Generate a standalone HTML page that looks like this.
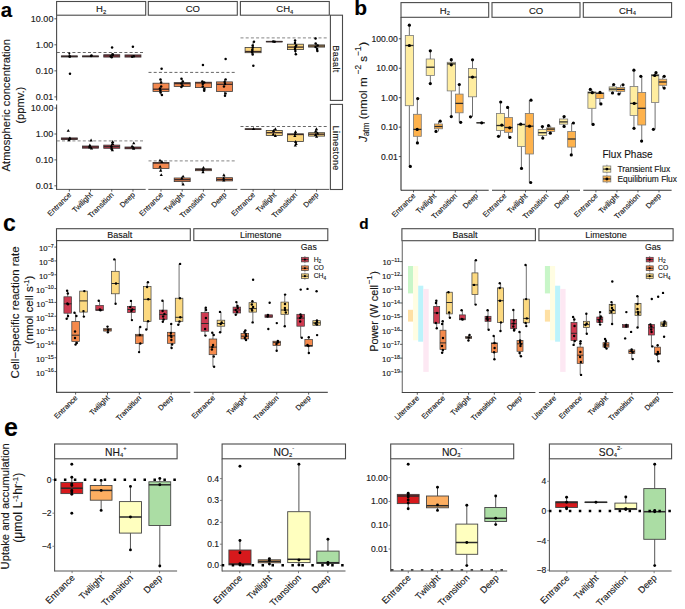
<!DOCTYPE html>
<html><head><meta charset="utf-8"><style>
html,body{margin:0;padding:0;background:#fff;width:685px;height:609px;overflow:hidden}
svg{display:block;font-family:"Liberation Sans", sans-serif}
text{stroke:currentColor;stroke-width:0.12px}
</style></head><body>
<svg width="685" height="609" viewBox="0 0 685 609">
<rect width="685" height="609" fill="#fff"/>
<text x="0.80" y="17.00" font-size="20.5" text-anchor="start" font-weight="bold" fill="#000">a</text>
<rect x="56.60" y="1.50" width="89.10" height="13.70" fill="#fff" stroke="#4a4a4a" stroke-width="1.1"/>
<text x="101.15" y="12.07" font-size="9.5" text-anchor="middle" fill="#1a1a1a">H<tspan font-size="5.8" dy="1.8">2</tspan></text>
<rect x="148.30" y="1.50" width="89.00" height="13.70" fill="#fff" stroke="#4a4a4a" stroke-width="1.1"/>
<text x="192.80" y="12.07" font-size="9.5" text-anchor="middle" fill="#1a1a1a">CO</text>
<rect x="240.40" y="1.50" width="88.90" height="13.70" fill="#fff" stroke="#4a4a4a" stroke-width="1.1"/>
<text x="284.85" y="12.07" font-size="9.5" text-anchor="middle" fill="#1a1a1a">CH<tspan font-size="5.8" dy="1.8">4</tspan></text>
<rect x="330.40" y="15.20" width="12.10" height="85.20" fill="#fff" stroke="#4a4a4a" stroke-width="1.1"/>
<text x="336.45" y="59.00" font-size="9" text-anchor="middle" dominant-baseline="central" letter-spacing="0.4" fill="#1a1a1a" transform="rotate(90 336.45 59.00)">Basalt</text>
<rect x="330.40" y="104.40" width="12.10" height="85.10" fill="#fff" stroke="#4a4a4a" stroke-width="1.1"/>
<text x="336.45" y="148.15" font-size="9" text-anchor="middle" dominant-baseline="central" letter-spacing="0.4" fill="#1a1a1a" transform="rotate(90 336.45 148.15)">Limestone</text>
<line x1="56.60" y1="15.20" x2="56.60" y2="100.40" stroke="#4a4a4a" stroke-width="1.1"/>
<line x1="56.60" y1="104.40" x2="56.60" y2="189.90" stroke="#4a4a4a" stroke-width="1.1"/>
<line x1="54.40" y1="18.80" x2="56.60" y2="18.80" stroke="#333" stroke-width="0.8"/>
<text x="53.40" y="21.95" font-size="9" text-anchor="end" font-weight="normal" fill="#1a1a1a">10.00</text>
<line x1="54.40" y1="44.80" x2="56.60" y2="44.80" stroke="#333" stroke-width="0.8"/>
<text x="53.40" y="47.95" font-size="9" text-anchor="end" font-weight="normal" fill="#1a1a1a">1.00</text>
<line x1="54.40" y1="70.85" x2="56.60" y2="70.85" stroke="#333" stroke-width="0.8"/>
<text x="53.40" y="74.00" font-size="9" text-anchor="end" font-weight="normal" fill="#1a1a1a">0.10</text>
<line x1="54.40" y1="96.90" x2="56.60" y2="96.90" stroke="#333" stroke-width="0.8"/>
<text x="53.40" y="100.05" font-size="9" text-anchor="end" font-weight="normal" fill="#1a1a1a">0.01</text>
<line x1="54.40" y1="108.10" x2="56.60" y2="108.10" stroke="#333" stroke-width="0.8"/>
<text x="53.40" y="111.25" font-size="9" text-anchor="end" font-weight="normal" fill="#1a1a1a">10.00</text>
<line x1="54.40" y1="134.00" x2="56.60" y2="134.00" stroke="#333" stroke-width="0.8"/>
<text x="53.40" y="137.15" font-size="9" text-anchor="end" font-weight="normal" fill="#1a1a1a">1.00</text>
<line x1="54.40" y1="159.90" x2="56.60" y2="159.90" stroke="#333" stroke-width="0.8"/>
<text x="53.40" y="163.05" font-size="9" text-anchor="end" font-weight="normal" fill="#1a1a1a">0.10</text>
<line x1="54.40" y1="185.80" x2="56.60" y2="185.80" stroke="#333" stroke-width="0.8"/>
<text x="53.40" y="188.95" font-size="9" text-anchor="end" font-weight="normal" fill="#1a1a1a">0.01</text>
<line x1="56.60" y1="189.40" x2="145.70" y2="189.40" stroke="#555" stroke-width="1.0"/>
<line x1="69.33" y1="189.40" x2="69.33" y2="191.60" stroke="#333" stroke-width="0.8"/>
<line x1="90.54" y1="189.40" x2="90.54" y2="191.60" stroke="#333" stroke-width="0.8"/>
<line x1="111.76" y1="189.40" x2="111.76" y2="191.60" stroke="#333" stroke-width="0.8"/>
<line x1="132.97" y1="189.40" x2="132.97" y2="191.60" stroke="#333" stroke-width="0.8"/>
<text x="71.73" y="195.40" font-size="7.5" text-anchor="end" fill="#1a1a1a" transform="rotate(-45 71.73 195.40)">Entrance</text>
<text x="92.94" y="195.40" font-size="7.5" text-anchor="end" fill="#1a1a1a" transform="rotate(-45 92.94 195.40)">Twilight</text>
<text x="114.16" y="195.40" font-size="7.5" text-anchor="end" fill="#1a1a1a" transform="rotate(-45 114.16 195.40)">Transition</text>
<text x="135.37" y="195.40" font-size="7.5" text-anchor="end" fill="#1a1a1a" transform="rotate(-45 135.37 195.40)">Deep</text>
<line x1="148.30" y1="189.40" x2="237.30" y2="189.40" stroke="#555" stroke-width="1.0"/>
<line x1="161.01" y1="189.40" x2="161.01" y2="191.60" stroke="#333" stroke-width="0.8"/>
<line x1="182.20" y1="189.40" x2="182.20" y2="191.60" stroke="#333" stroke-width="0.8"/>
<line x1="203.40" y1="189.40" x2="203.40" y2="191.60" stroke="#333" stroke-width="0.8"/>
<line x1="224.59" y1="189.40" x2="224.59" y2="191.60" stroke="#333" stroke-width="0.8"/>
<text x="163.41" y="195.40" font-size="7.5" text-anchor="end" fill="#1a1a1a" transform="rotate(-45 163.41 195.40)">Entrance</text>
<text x="184.60" y="195.40" font-size="7.5" text-anchor="end" fill="#1a1a1a" transform="rotate(-45 184.60 195.40)">Twilight</text>
<text x="205.80" y="195.40" font-size="7.5" text-anchor="end" fill="#1a1a1a" transform="rotate(-45 205.80 195.40)">Transition</text>
<text x="226.99" y="195.40" font-size="7.5" text-anchor="end" fill="#1a1a1a" transform="rotate(-45 226.99 195.40)">Deep</text>
<line x1="240.40" y1="189.40" x2="329.30" y2="189.40" stroke="#555" stroke-width="1.0"/>
<line x1="253.10" y1="189.40" x2="253.10" y2="191.60" stroke="#333" stroke-width="0.8"/>
<line x1="274.27" y1="189.40" x2="274.27" y2="191.60" stroke="#333" stroke-width="0.8"/>
<line x1="295.43" y1="189.40" x2="295.43" y2="191.60" stroke="#333" stroke-width="0.8"/>
<line x1="316.60" y1="189.40" x2="316.60" y2="191.60" stroke="#333" stroke-width="0.8"/>
<text x="255.50" y="195.40" font-size="7.5" text-anchor="end" fill="#1a1a1a" transform="rotate(-45 255.50 195.40)">Entrance</text>
<text x="276.67" y="195.40" font-size="7.5" text-anchor="end" fill="#1a1a1a" transform="rotate(-45 276.67 195.40)">Twilight</text>
<text x="297.83" y="195.40" font-size="7.5" text-anchor="end" fill="#1a1a1a" transform="rotate(-45 297.83 195.40)">Transition</text>
<text x="319.00" y="195.40" font-size="7.5" text-anchor="end" fill="#1a1a1a" transform="rotate(-45 319.00 195.40)">Deep</text>
<text x="10.50" y="105.20" font-size="11.2" text-anchor="middle" font-weight="normal" fill="#1a1a1a" transform="rotate(-90 10.50 105.20)">Atmospheric concentration</text>
<text x="24.00" y="105.20" font-size="11.2" text-anchor="middle" font-weight="normal" fill="#1a1a1a" transform="rotate(-90 24.00 105.20)">(ppmv.)</text>
<line x1="56.80" y1="52.50" x2="144.50" y2="52.50" stroke="#555" stroke-width="0.9" stroke-dasharray="3 2.2"/>
<line x1="148.50" y1="72.40" x2="236.30" y2="72.40" stroke="#555" stroke-width="0.9" stroke-dasharray="3 2.2"/>
<line x1="240.50" y1="37.90" x2="327.80" y2="37.90" stroke="#777" stroke-width="0.9" stroke-dasharray="3 2.2"/>
<line x1="56.80" y1="140.90" x2="144.50" y2="140.90" stroke="#777" stroke-width="0.9" stroke-dasharray="3 2.2"/>
<line x1="148.50" y1="160.90" x2="236.30" y2="160.90" stroke="#777" stroke-width="0.9" stroke-dasharray="3 2.2"/>
<line x1="240.50" y1="126.50" x2="327.80" y2="126.50" stroke="#555" stroke-width="0.9" stroke-dasharray="3 2.2"/>
<line x1="69.33" y1="53.10" x2="69.33" y2="55.90" stroke="#333" stroke-width="0.8"/>
<rect x="61.33" y="55.90" width="16.00" height="1.10" fill="#c63a4b" stroke="#3a3a3a" stroke-width="0.8"/>
<line x1="61.33" y1="56.40" x2="77.33" y2="56.40" stroke="#3a2a2a" stroke-width="1.3"/>
<circle cx="69.60" cy="56.40" r="1.25" fill="#000"/>
<circle cx="69.86" cy="56.60" r="1.25" fill="#000"/>
<circle cx="69.98" cy="73.80" r="1.25" fill="#000"/>
<circle cx="69.33" cy="53.40" r="1.0" fill="#000"/>
<line x1="90.54" y1="55.50" x2="90.54" y2="55.90" stroke="#333" stroke-width="0.8"/>
<rect x="82.54" y="55.90" width="16.00" height="1.00" fill="#c63a4b" stroke="#3a3a3a" stroke-width="0.8"/>
<line x1="82.54" y1="56.40" x2="98.54" y2="56.40" stroke="#3a2a2a" stroke-width="1.3"/>
<circle cx="91.52" cy="55.50" r="1.25" fill="#000"/>
<circle cx="91.07" cy="56.00" r="1.25" fill="#000"/>
<line x1="111.76" y1="53.50" x2="111.76" y2="54.70" stroke="#333" stroke-width="0.8"/>
<line x1="111.76" y1="57.10" x2="111.76" y2="57.30" stroke="#333" stroke-width="0.8"/>
<rect x="103.76" y="54.70" width="16.00" height="2.40" fill="#c63a4b" stroke="#3a3a3a" stroke-width="0.8"/>
<line x1="103.76" y1="55.90" x2="119.76" y2="55.90" stroke="#3a2a2a" stroke-width="1.3"/>
<circle cx="112.69" cy="55.00" r="1.25" fill="#000"/>
<circle cx="110.72" cy="56.20" r="1.25" fill="#000"/>
<circle cx="111.68" cy="57.30" r="1.25" fill="#000"/>
<circle cx="112.73" cy="54.30" r="1.25" fill="#000"/>
<circle cx="112.08" cy="47.60" r="1.25" fill="#000"/>
<rect x="124.97" y="54.90" width="16.00" height="2.20" fill="#c63a4b" stroke="#3a3a3a" stroke-width="0.8"/>
<line x1="124.97" y1="56.00" x2="140.97" y2="56.00" stroke="#3a2a2a" stroke-width="1.3"/>
<circle cx="133.85" cy="56.20" r="1.25" fill="#000"/>
<circle cx="132.12" cy="56.80" r="1.25" fill="#000"/>
<circle cx="132.90" cy="46.80" r="1.25" fill="#000"/>
<line x1="161.01" y1="79.50" x2="161.01" y2="83.20" stroke="#333" stroke-width="0.8"/>
<line x1="161.01" y1="91.40" x2="161.01" y2="95.00" stroke="#333" stroke-width="0.8"/>
<rect x="153.01" y="83.20" width="16.00" height="8.20" fill="#f4894f" stroke="#3a3a3a" stroke-width="0.8"/>
<line x1="153.01" y1="89.20" x2="169.01" y2="89.20" stroke="#3a2a2a" stroke-width="1.3"/>
<circle cx="160.46" cy="79.50" r="1.25" fill="#000"/>
<circle cx="161.11" cy="82.50" r="1.25" fill="#000"/>
<circle cx="161.18" cy="86.50" r="1.25" fill="#000"/>
<circle cx="159.94" cy="88.50" r="1.25" fill="#000"/>
<circle cx="160.39" cy="90.50" r="1.25" fill="#000"/>
<circle cx="160.53" cy="92.50" r="1.25" fill="#000"/>
<circle cx="161.93" cy="95.00" r="1.25" fill="#000"/>
<circle cx="161.60" cy="68.70" r="1.25" fill="#000"/>
<line x1="182.20" y1="78.70" x2="182.20" y2="82.60" stroke="#333" stroke-width="0.8"/>
<line x1="182.20" y1="86.50" x2="182.20" y2="87.00" stroke="#333" stroke-width="0.8"/>
<rect x="174.20" y="82.60" width="16.00" height="3.90" fill="#f4894f" stroke="#3a3a3a" stroke-width="0.8"/>
<line x1="174.20" y1="83.60" x2="190.20" y2="83.60" stroke="#3a2a2a" stroke-width="1.3"/>
<circle cx="181.46" cy="78.70" r="1.25" fill="#000"/>
<circle cx="182.86" cy="81.50" r="1.25" fill="#000"/>
<circle cx="181.41" cy="83.50" r="1.25" fill="#000"/>
<circle cx="182.46" cy="85.50" r="1.25" fill="#000"/>
<circle cx="181.38" cy="87.00" r="1.25" fill="#000"/>
<line x1="203.40" y1="81.50" x2="203.40" y2="82.20" stroke="#333" stroke-width="0.8"/>
<line x1="203.40" y1="87.60" x2="203.40" y2="90.80" stroke="#333" stroke-width="0.8"/>
<rect x="195.40" y="82.20" width="16.00" height="5.40" fill="#f4894f" stroke="#3a3a3a" stroke-width="0.8"/>
<line x1="195.40" y1="82.90" x2="211.40" y2="82.90" stroke="#3a2a2a" stroke-width="1.3"/>
<circle cx="202.30" cy="81.50" r="1.25" fill="#000"/>
<circle cx="204.21" cy="82.50" r="1.25" fill="#000"/>
<circle cx="202.76" cy="84.00" r="1.25" fill="#000"/>
<circle cx="202.77" cy="86.50" r="1.25" fill="#000"/>
<circle cx="204.46" cy="89.00" r="1.25" fill="#000"/>
<circle cx="204.21" cy="90.80" r="1.25" fill="#000"/>
<circle cx="202.93" cy="65.10" r="1.25" fill="#000"/>
<line x1="224.59" y1="79.50" x2="224.59" y2="81.90" stroke="#333" stroke-width="0.8"/>
<line x1="224.59" y1="91.40" x2="224.59" y2="95.80" stroke="#333" stroke-width="0.8"/>
<rect x="216.59" y="81.90" width="16.00" height="9.50" fill="#f4894f" stroke="#3a3a3a" stroke-width="0.8"/>
<line x1="216.59" y1="84.30" x2="232.59" y2="84.30" stroke="#3a2a2a" stroke-width="1.3"/>
<circle cx="225.60" cy="79.50" r="1.25" fill="#000"/>
<circle cx="224.67" cy="82.00" r="1.25" fill="#000"/>
<circle cx="224.98" cy="84.00" r="1.25" fill="#000"/>
<circle cx="223.94" cy="86.50" r="1.25" fill="#000"/>
<circle cx="225.56" cy="93.50" r="1.25" fill="#000"/>
<circle cx="225.01" cy="95.80" r="1.25" fill="#000"/>
<circle cx="225.61" cy="59.10" r="1.25" fill="#000"/>
<line x1="253.10" y1="41.60" x2="253.10" y2="47.40" stroke="#333" stroke-width="0.8"/>
<line x1="253.10" y1="52.70" x2="253.10" y2="54.50" stroke="#333" stroke-width="0.8"/>
<rect x="245.10" y="47.40" width="16.00" height="5.30" fill="#fcd67c" stroke="#3a3a3a" stroke-width="0.8"/>
<line x1="245.10" y1="51.50" x2="261.10" y2="51.50" stroke="#3a2a2a" stroke-width="1.3"/>
<circle cx="253.97" cy="41.80" r="1.25" fill="#000"/>
<circle cx="252.66" cy="45.50" r="1.25" fill="#000"/>
<circle cx="252.79" cy="47.50" r="1.25" fill="#000"/>
<circle cx="252.37" cy="49.50" r="1.25" fill="#000"/>
<circle cx="252.32" cy="51.00" r="1.25" fill="#000"/>
<circle cx="252.14" cy="52.50" r="1.25" fill="#000"/>
<circle cx="252.66" cy="54.50" r="1.25" fill="#000"/>
<circle cx="253.33" cy="65.80" r="1.25" fill="#000"/>
<rect x="266.27" y="41.30" width="16.00" height="0.60" fill="#fcd67c" stroke="#3a3a3a" stroke-width="0.8"/>
<line x1="266.27" y1="41.60" x2="282.27" y2="41.60" stroke="#3a2a2a" stroke-width="1.3"/>
<circle cx="273.17" cy="41.60" r="1.25" fill="#000"/>
<circle cx="274.66" cy="41.80" r="1.25" fill="#000"/>
<line x1="295.43" y1="40.50" x2="295.43" y2="44.20" stroke="#333" stroke-width="0.8"/>
<line x1="295.43" y1="49.60" x2="295.43" y2="54.30" stroke="#333" stroke-width="0.8"/>
<rect x="287.43" y="44.20" width="16.00" height="5.40" fill="#fcd67c" stroke="#3a3a3a" stroke-width="0.8"/>
<line x1="287.43" y1="47.10" x2="303.43" y2="47.10" stroke="#3a2a2a" stroke-width="1.3"/>
<circle cx="295.08" cy="40.60" r="1.25" fill="#000"/>
<circle cx="295.02" cy="43.00" r="1.25" fill="#000"/>
<circle cx="296.13" cy="45.50" r="1.25" fill="#000"/>
<circle cx="295.39" cy="47.00" r="1.25" fill="#000"/>
<circle cx="295.03" cy="49.00" r="1.25" fill="#000"/>
<circle cx="295.39" cy="51.00" r="1.25" fill="#000"/>
<circle cx="295.88" cy="54.30" r="1.25" fill="#000"/>
<line x1="316.60" y1="43.50" x2="316.60" y2="44.90" stroke="#333" stroke-width="0.8"/>
<line x1="316.60" y1="47.10" x2="316.60" y2="51.00" stroke="#333" stroke-width="0.8"/>
<rect x="308.60" y="44.90" width="16.00" height="2.20" fill="#fcd67c" stroke="#3a3a3a" stroke-width="0.8"/>
<line x1="308.60" y1="46.00" x2="324.60" y2="46.00" stroke="#3a2a2a" stroke-width="1.3"/>
<circle cx="315.63" cy="43.50" r="1.25" fill="#000"/>
<circle cx="317.65" cy="45.50" r="1.25" fill="#000"/>
<circle cx="315.55" cy="47.00" r="1.25" fill="#000"/>
<circle cx="317.15" cy="49.00" r="1.25" fill="#000"/>
<circle cx="317.36" cy="51.00" r="1.25" fill="#000"/>
<circle cx="315.54" cy="38.40" r="1.25" fill="#000"/>
<line x1="69.33" y1="139.60" x2="69.33" y2="140.20" stroke="#333" stroke-width="0.8"/>
<rect x="61.33" y="137.90" width="16.00" height="1.70" fill="#c63a4b" stroke="#3a3a3a" stroke-width="0.8"/>
<line x1="61.33" y1="138.80" x2="77.33" y2="138.80" stroke="#3a2a2a" stroke-width="1.3"/>
<path d="M68.36 139.36L71.56 139.36L69.96 136.48Z" fill="#000"/>
<path d="M67.43 141.16L70.63 141.16L69.03 138.28Z" fill="#000"/>
<path d="M67.90 139.96L71.10 139.96L69.50 137.08Z" fill="#000"/>
<path d="M66.65 131.76L69.85 131.76L68.25 128.88Z" fill="#000"/>
<line x1="90.54" y1="145.50" x2="90.54" y2="146.00" stroke="#333" stroke-width="0.8"/>
<line x1="90.54" y1="148.20" x2="90.54" y2="148.50" stroke="#333" stroke-width="0.8"/>
<rect x="82.54" y="146.00" width="16.00" height="2.20" fill="#c63a4b" stroke="#3a3a3a" stroke-width="0.8"/>
<line x1="82.54" y1="147.00" x2="98.54" y2="147.00" stroke="#3a2a2a" stroke-width="1.3"/>
<path d="M87.95 147.46L91.15 147.46L89.55 144.58Z" fill="#000"/>
<path d="M88.24 148.46L91.44 148.46L89.84 145.58Z" fill="#000"/>
<path d="M89.94 149.46L93.14 149.46L91.54 146.58Z" fill="#000"/>
<path d="M88.28 146.46L91.48 146.46L89.88 143.58Z" fill="#000"/>
<path d="M89.51 141.46L92.71 141.46L91.11 138.58Z" fill="#000"/>
<line x1="111.76" y1="142.00" x2="111.76" y2="145.10" stroke="#333" stroke-width="0.8"/>
<line x1="111.76" y1="148.30" x2="111.76" y2="150.20" stroke="#333" stroke-width="0.8"/>
<rect x="103.76" y="145.10" width="16.00" height="3.20" fill="#c63a4b" stroke="#3a3a3a" stroke-width="0.8"/>
<line x1="103.76" y1="146.60" x2="119.76" y2="146.60" stroke="#3a2a2a" stroke-width="1.3"/>
<path d="M111.10 142.96L114.30 142.96L112.70 140.08Z" fill="#000"/>
<path d="M111.13 144.96L114.33 144.96L112.73 142.08Z" fill="#000"/>
<path d="M109.81 146.96L113.01 146.96L111.41 144.08Z" fill="#000"/>
<path d="M109.84 148.46L113.04 148.46L111.44 145.58Z" fill="#000"/>
<path d="M110.21 149.96L113.41 149.96L111.81 147.08Z" fill="#000"/>
<path d="M110.76 151.16L113.96 151.16L112.36 148.28Z" fill="#000"/>
<line x1="132.97" y1="146.50" x2="132.97" y2="147.00" stroke="#333" stroke-width="0.8"/>
<rect x="124.97" y="147.00" width="16.00" height="1.80" fill="#c63a4b" stroke="#3a3a3a" stroke-width="0.8"/>
<line x1="124.97" y1="148.00" x2="140.97" y2="148.00" stroke="#3a2a2a" stroke-width="1.3"/>
<path d="M130.51 147.46L133.71 147.46L132.11 144.58Z" fill="#000"/>
<path d="M131.92 148.76L135.12 148.76L133.52 145.88Z" fill="#000"/>
<path d="M132.03 149.76L135.23 149.76L133.63 146.88Z" fill="#000"/>
<path d="M132.16 144.36L135.36 144.36L133.76 141.48Z" fill="#000"/>
<line x1="161.01" y1="160.60" x2="161.01" y2="162.40" stroke="#333" stroke-width="0.8"/>
<line x1="161.01" y1="168.50" x2="161.01" y2="170.70" stroke="#333" stroke-width="0.8"/>
<rect x="153.01" y="162.40" width="16.00" height="6.10" fill="#f4894f" stroke="#3a3a3a" stroke-width="0.8"/>
<line x1="153.01" y1="163.10" x2="169.01" y2="163.10" stroke="#3a2a2a" stroke-width="1.3"/>
<path d="M158.39 161.56L161.59 161.56L159.99 158.68Z" fill="#000"/>
<path d="M160.40 162.96L163.60 162.96L162.00 160.08Z" fill="#000"/>
<path d="M158.51 167.76L161.71 167.76L160.11 164.88Z" fill="#000"/>
<path d="M159.06 171.66L162.26 171.66L160.66 168.78Z" fill="#000"/>
<path d="M159.66 176.06L162.86 176.06L161.26 173.18Z" fill="#000"/>
<line x1="182.20" y1="176.60" x2="182.20" y2="178.00" stroke="#333" stroke-width="0.8"/>
<line x1="182.20" y1="181.60" x2="182.20" y2="184.50" stroke="#333" stroke-width="0.8"/>
<rect x="174.20" y="178.00" width="16.00" height="3.60" fill="#f4894f" stroke="#3a3a3a" stroke-width="0.8"/>
<line x1="174.20" y1="179.70" x2="190.20" y2="179.70" stroke="#3a2a2a" stroke-width="1.3"/>
<path d="M181.52 177.56L184.72 177.56L183.12 174.68Z" fill="#000"/>
<path d="M180.25 179.46L183.45 179.46L181.85 176.58Z" fill="#000"/>
<path d="M181.54 185.46L184.74 185.46L183.14 182.58Z" fill="#000"/>
<line x1="203.40" y1="167.80" x2="203.40" y2="168.80" stroke="#333" stroke-width="0.8"/>
<line x1="203.40" y1="170.70" x2="203.40" y2="172.20" stroke="#333" stroke-width="0.8"/>
<rect x="195.40" y="168.80" width="16.00" height="1.90" fill="#f4894f" stroke="#3a3a3a" stroke-width="0.8"/>
<line x1="195.40" y1="169.50" x2="211.40" y2="169.50" stroke="#3a2a2a" stroke-width="1.3"/>
<path d="M201.89 168.76L205.09 168.76L203.49 165.88Z" fill="#000"/>
<path d="M201.38 170.96L204.58 170.96L202.98 168.08Z" fill="#000"/>
<path d="M201.39 173.16L204.59 173.16L202.99 170.28Z" fill="#000"/>
<line x1="224.59" y1="175.20" x2="224.59" y2="177.70" stroke="#333" stroke-width="0.8"/>
<rect x="216.59" y="177.70" width="16.00" height="3.20" fill="#f4894f" stroke="#3a3a3a" stroke-width="0.8"/>
<line x1="216.59" y1="179.50" x2="232.59" y2="179.50" stroke="#3a2a2a" stroke-width="1.3"/>
<path d="M222.28 176.16L225.48 176.16L223.88 173.28Z" fill="#000"/>
<path d="M222.06 179.46L225.26 179.46L223.66 176.58Z" fill="#000"/>
<path d="M222.21 181.46L225.41 181.46L223.81 178.58Z" fill="#000"/>
<rect x="245.10" y="128.80" width="16.00" height="0.60" fill="#fcd67c" stroke="#3a3a3a" stroke-width="0.8"/>
<line x1="245.10" y1="129.10" x2="261.10" y2="129.10" stroke="#3a2a2a" stroke-width="1.3"/>
<path d="M251.92 129.96L255.12 129.96L253.52 127.08Z" fill="#000"/>
<line x1="274.27" y1="129.20" x2="274.27" y2="130.50" stroke="#333" stroke-width="0.8"/>
<line x1="274.27" y1="135.40" x2="274.27" y2="136.00" stroke="#333" stroke-width="0.8"/>
<rect x="266.27" y="130.50" width="16.00" height="4.90" fill="#fcd67c" stroke="#3a3a3a" stroke-width="0.8"/>
<line x1="266.27" y1="132.70" x2="282.27" y2="132.70" stroke="#3a2a2a" stroke-width="1.3"/>
<path d="M273.76 130.16L276.96 130.16L275.36 127.28Z" fill="#000"/>
<path d="M271.92 131.96L275.12 131.96L273.52 129.08Z" fill="#000"/>
<path d="M271.67 135.46L274.87 135.46L273.27 132.58Z" fill="#000"/>
<path d="M273.74 136.96L276.94 136.96L275.34 134.08Z" fill="#000"/>
<line x1="295.43" y1="132.00" x2="295.43" y2="133.80" stroke="#333" stroke-width="0.8"/>
<line x1="295.43" y1="141.50" x2="295.43" y2="145.60" stroke="#333" stroke-width="0.8"/>
<rect x="287.43" y="133.80" width="16.00" height="7.70" fill="#fcd67c" stroke="#3a3a3a" stroke-width="0.8"/>
<line x1="287.43" y1="134.50" x2="303.43" y2="134.50" stroke="#3a2a2a" stroke-width="1.3"/>
<path d="M293.91 132.96L297.11 132.96L295.51 130.08Z" fill="#000"/>
<path d="M293.63 134.96L296.83 134.96L295.23 132.08Z" fill="#000"/>
<path d="M293.26 136.96L296.46 136.96L294.86 134.08Z" fill="#000"/>
<path d="M294.04 142.96L297.24 142.96L295.64 140.08Z" fill="#000"/>
<path d="M294.55 144.96L297.75 144.96L296.15 142.08Z" fill="#000"/>
<path d="M293.74 146.56L296.94 146.56L295.34 143.68Z" fill="#000"/>
<line x1="316.60" y1="129.20" x2="316.60" y2="132.70" stroke="#333" stroke-width="0.8"/>
<line x1="316.60" y1="136.10" x2="316.60" y2="136.80" stroke="#333" stroke-width="0.8"/>
<rect x="308.60" y="132.70" width="16.00" height="3.40" fill="#fcd67c" stroke="#3a3a3a" stroke-width="0.8"/>
<line x1="308.60" y1="134.20" x2="324.60" y2="134.20" stroke="#3a2a2a" stroke-width="1.3"/>
<path d="M314.83 130.16L318.03 130.16L316.43 127.28Z" fill="#000"/>
<path d="M314.02 132.46L317.22 132.46L315.62 129.58Z" fill="#000"/>
<path d="M315.92 134.46L319.12 134.46L317.52 131.58Z" fill="#000"/>
<path d="M313.97 135.96L317.17 135.96L315.57 133.08Z" fill="#000"/>
<path d="M314.99 137.76L318.19 137.76L316.59 134.88Z" fill="#000"/>
<text x="354.30" y="14.70" font-size="21" text-anchor="start" font-weight="bold" fill="#000">b</text>
<rect x="401.00" y="2.60" width="87.70" height="14.70" fill="#fff" stroke="#4a4a4a" stroke-width="1.1"/>
<text x="444.85" y="13.57" font-size="9.5" text-anchor="middle" fill="#1a1a1a">H<tspan font-size="5.8" dy="1.8">2</tspan></text>
<rect x="492.00" y="2.60" width="88.00" height="14.70" fill="#fff" stroke="#4a4a4a" stroke-width="1.1"/>
<text x="536.00" y="13.57" font-size="9.5" text-anchor="middle" fill="#1a1a1a">CO</text>
<rect x="583.30" y="2.60" width="88.30" height="14.70" fill="#fff" stroke="#4a4a4a" stroke-width="1.1"/>
<text x="627.45" y="13.57" font-size="9.5" text-anchor="middle" fill="#1a1a1a">CH<tspan font-size="5.8" dy="1.8">4</tspan></text>
<line x1="401.00" y1="17.30" x2="401.00" y2="190.60" stroke="#333" stroke-width="1.1"/>
<line x1="398.80" y1="38.80" x2="401.00" y2="38.80" stroke="#333" stroke-width="0.8"/>
<text x="397.80" y="41.90" font-size="8.6" text-anchor="end" font-weight="normal" fill="#1a1a1a">100.00</text>
<line x1="398.80" y1="68.25" x2="401.00" y2="68.25" stroke="#333" stroke-width="0.8"/>
<text x="397.80" y="71.35" font-size="8.6" text-anchor="end" font-weight="normal" fill="#1a1a1a">10.00</text>
<line x1="398.80" y1="97.70" x2="401.00" y2="97.70" stroke="#333" stroke-width="0.8"/>
<text x="397.80" y="100.80" font-size="8.6" text-anchor="end" font-weight="normal" fill="#1a1a1a">1.00</text>
<line x1="398.80" y1="127.15" x2="401.00" y2="127.15" stroke="#333" stroke-width="0.8"/>
<text x="397.80" y="130.25" font-size="8.6" text-anchor="end" font-weight="normal" fill="#1a1a1a">0.10</text>
<line x1="398.80" y1="156.60" x2="401.00" y2="156.60" stroke="#333" stroke-width="0.8"/>
<text x="397.80" y="159.70" font-size="8.6" text-anchor="end" font-weight="normal" fill="#1a1a1a">0.01</text>
<line x1="401.00" y1="190.20" x2="488.70" y2="190.20" stroke="#333" stroke-width="1.1"/>
<line x1="413.53" y1="190.20" x2="413.53" y2="192.40" stroke="#333" stroke-width="0.8"/>
<line x1="434.41" y1="190.20" x2="434.41" y2="192.40" stroke="#333" stroke-width="0.8"/>
<line x1="455.29" y1="190.20" x2="455.29" y2="192.40" stroke="#333" stroke-width="0.8"/>
<line x1="476.17" y1="190.20" x2="476.17" y2="192.40" stroke="#333" stroke-width="0.8"/>
<text x="415.93" y="196.40" font-size="7.5" text-anchor="end" fill="#1a1a1a" transform="rotate(-45 415.93 196.40)">Entrance</text>
<text x="436.81" y="196.40" font-size="7.5" text-anchor="end" fill="#1a1a1a" transform="rotate(-45 436.81 196.40)">Twilight</text>
<text x="457.69" y="196.40" font-size="7.5" text-anchor="end" fill="#1a1a1a" transform="rotate(-45 457.69 196.40)">Transition</text>
<text x="478.57" y="196.40" font-size="7.5" text-anchor="end" fill="#1a1a1a" transform="rotate(-45 478.57 196.40)">Deep</text>
<line x1="492.00" y1="190.20" x2="580.00" y2="190.20" stroke="#333" stroke-width="1.1"/>
<line x1="504.57" y1="190.20" x2="504.57" y2="192.40" stroke="#333" stroke-width="0.8"/>
<line x1="525.52" y1="190.20" x2="525.52" y2="192.40" stroke="#333" stroke-width="0.8"/>
<line x1="546.48" y1="190.20" x2="546.48" y2="192.40" stroke="#333" stroke-width="0.8"/>
<line x1="567.43" y1="190.20" x2="567.43" y2="192.40" stroke="#333" stroke-width="0.8"/>
<text x="506.97" y="196.40" font-size="7.5" text-anchor="end" fill="#1a1a1a" transform="rotate(-45 506.97 196.40)">Entrance</text>
<text x="527.92" y="196.40" font-size="7.5" text-anchor="end" fill="#1a1a1a" transform="rotate(-45 527.92 196.40)">Twilight</text>
<text x="548.88" y="196.40" font-size="7.5" text-anchor="end" fill="#1a1a1a" transform="rotate(-45 548.88 196.40)">Transition</text>
<text x="569.83" y="196.40" font-size="7.5" text-anchor="end" fill="#1a1a1a" transform="rotate(-45 569.83 196.40)">Deep</text>
<line x1="583.30" y1="190.20" x2="671.60" y2="190.20" stroke="#333" stroke-width="1.1"/>
<line x1="595.91" y1="190.20" x2="595.91" y2="192.40" stroke="#333" stroke-width="0.8"/>
<line x1="616.94" y1="190.20" x2="616.94" y2="192.40" stroke="#333" stroke-width="0.8"/>
<line x1="637.96" y1="190.20" x2="637.96" y2="192.40" stroke="#333" stroke-width="0.8"/>
<line x1="658.99" y1="190.20" x2="658.99" y2="192.40" stroke="#333" stroke-width="0.8"/>
<text x="598.31" y="196.40" font-size="7.5" text-anchor="end" fill="#1a1a1a" transform="rotate(-45 598.31 196.40)">Entrance</text>
<text x="619.34" y="196.40" font-size="7.5" text-anchor="end" fill="#1a1a1a" transform="rotate(-45 619.34 196.40)">Twilight</text>
<text x="640.36" y="196.40" font-size="7.5" text-anchor="end" fill="#1a1a1a" transform="rotate(-45 640.36 196.40)">Transition</text>
<text x="661.39" y="196.40" font-size="7.5" text-anchor="end" fill="#1a1a1a" transform="rotate(-45 661.39 196.40)">Deep</text>
<text x="367.0" y="91.9" font-size="11.6" text-anchor="middle" fill="#1a1a1a" transform="rotate(-90 367.0 91.9)"><tspan font-style="italic">J</tspan><tspan font-size="8.2" dy="2.4">atm</tspan><tspan dy="-2.4"> (nmol m </tspan><tspan font-size="8.2" dy="-6.1">−2</tspan><tspan dy="6.1"> s</tspan><tspan font-size="8.2" dy="-6.1">−1</tspan><tspan dy="6.1" dx="0.8">)</tspan></text>
<line x1="409.35" y1="25.20" x2="409.35" y2="35.50" stroke="#707070" stroke-width="1.0"/>
<line x1="409.35" y1="105.70" x2="409.35" y2="166.40" stroke="#707070" stroke-width="1.0"/>
<rect x="405.30" y="35.50" width="8.10" height="70.20" fill="#ffeda0" stroke="#7a7a7a" stroke-width="0.8"/>
<line x1="405.30" y1="45.50" x2="413.40" y2="45.50" stroke="#2a2a2a" stroke-width="1.3"/>
<circle cx="409.35" cy="25.20" r="1.6" fill="#000"/>
<circle cx="409.35" cy="45.50" r="1.6" fill="#000"/>
<circle cx="410.30" cy="166.40" r="1.6" fill="#000"/>
<line x1="417.35" y1="98.60" x2="417.35" y2="114.30" stroke="#707070" stroke-width="1.0"/>
<line x1="417.35" y1="136.30" x2="417.35" y2="142.90" stroke="#707070" stroke-width="1.0"/>
<rect x="413.40" y="114.30" width="7.90" height="22.00" fill="#feb24c" stroke="#7a7a7a" stroke-width="0.8"/>
<line x1="413.40" y1="129.40" x2="421.30" y2="129.40" stroke="#2a2a2a" stroke-width="1.3"/>
<circle cx="417.70" cy="98.60" r="1.6" fill="#000"/>
<circle cx="417.20" cy="129.40" r="1.6" fill="#000"/>
<circle cx="417.40" cy="142.90" r="1.6" fill="#000"/>
<line x1="430.35" y1="50.80" x2="430.35" y2="59.00" stroke="#707070" stroke-width="1.0"/>
<line x1="430.35" y1="75.40" x2="430.35" y2="83.60" stroke="#707070" stroke-width="1.0"/>
<rect x="426.20" y="59.00" width="8.30" height="16.40" fill="#ffeda0" stroke="#7a7a7a" stroke-width="0.8"/>
<line x1="426.20" y1="67.20" x2="434.50" y2="67.20" stroke="#2a2a2a" stroke-width="1.3"/>
<circle cx="430.30" cy="50.80" r="1.6" fill="#000"/>
<circle cx="430.30" cy="83.60" r="1.6" fill="#000"/>
<line x1="438.50" y1="121.20" x2="438.50" y2="124.00" stroke="#707070" stroke-width="1.0"/>
<line x1="438.50" y1="128.80" x2="438.50" y2="131.40" stroke="#707070" stroke-width="1.0"/>
<rect x="434.50" y="124.00" width="8.00" height="4.80" fill="#feb24c" stroke="#7a7a7a" stroke-width="0.8"/>
<line x1="434.50" y1="126.50" x2="442.50" y2="126.50" stroke="#2a2a2a" stroke-width="1.3"/>
<circle cx="440.20" cy="121.20" r="1.6" fill="#000"/>
<circle cx="436.00" cy="131.40" r="1.6" fill="#000"/>
<line x1="451.30" y1="59.70" x2="451.30" y2="62.30" stroke="#707070" stroke-width="1.0"/>
<line x1="451.30" y1="90.90" x2="451.30" y2="116.60" stroke="#707070" stroke-width="1.0"/>
<rect x="447.20" y="62.30" width="8.20" height="28.60" fill="#ffeda0" stroke="#7a7a7a" stroke-width="0.8"/>
<line x1="447.20" y1="63.90" x2="455.40" y2="63.90" stroke="#2a2a2a" stroke-width="1.3"/>
<circle cx="451.30" cy="59.70" r="1.6" fill="#000"/>
<circle cx="451.30" cy="64.80" r="1.6" fill="#000"/>
<circle cx="451.30" cy="116.60" r="1.6" fill="#000"/>
<line x1="459.25" y1="84.50" x2="459.25" y2="94.10" stroke="#707070" stroke-width="1.0"/>
<line x1="459.25" y1="112.80" x2="459.25" y2="122.30" stroke="#707070" stroke-width="1.0"/>
<rect x="455.40" y="94.10" width="7.70" height="18.70" fill="#feb24c" stroke="#7a7a7a" stroke-width="0.8"/>
<line x1="455.40" y1="103.40" x2="463.10" y2="103.40" stroke="#2a2a2a" stroke-width="1.3"/>
<circle cx="459.30" cy="84.50" r="1.6" fill="#000"/>
<circle cx="460.70" cy="122.30" r="1.6" fill="#000"/>
<line x1="472.50" y1="59.80" x2="472.50" y2="68.40" stroke="#707070" stroke-width="1.0"/>
<line x1="472.50" y1="96.80" x2="472.50" y2="116.80" stroke="#707070" stroke-width="1.0"/>
<rect x="468.40" y="68.40" width="8.20" height="28.40" fill="#ffeda0" stroke="#7a7a7a" stroke-width="0.8"/>
<line x1="468.40" y1="77.10" x2="476.60" y2="77.10" stroke="#2a2a2a" stroke-width="1.3"/>
<circle cx="472.50" cy="59.80" r="1.6" fill="#000"/>
<circle cx="472.50" cy="77.10" r="1.6" fill="#000"/>
<circle cx="470.50" cy="116.80" r="1.6" fill="#000"/>
<rect x="476.60" y="122.60" width="8.00" height="0.40" fill="#feb24c" stroke="#7a7a7a" stroke-width="0.8"/>
<line x1="476.60" y1="122.80" x2="484.60" y2="122.80" stroke="#2a2a2a" stroke-width="1.3"/>
<circle cx="481.70" cy="122.80" r="1.6" fill="#000"/>
<line x1="500.45" y1="102.00" x2="500.45" y2="113.40" stroke="#707070" stroke-width="1.0"/>
<line x1="500.45" y1="130.50" x2="500.45" y2="136.30" stroke="#707070" stroke-width="1.0"/>
<rect x="496.40" y="113.40" width="8.10" height="17.10" fill="#ffeda0" stroke="#7a7a7a" stroke-width="0.8"/>
<line x1="496.40" y1="125.50" x2="504.50" y2="125.50" stroke="#2a2a2a" stroke-width="1.3"/>
<circle cx="500.70" cy="102.00" r="1.6" fill="#000"/>
<circle cx="498.50" cy="136.30" r="1.6" fill="#000"/>
<circle cx="501.80" cy="125.10" r="1.6" fill="#000"/>
<line x1="508.55" y1="107.40" x2="508.55" y2="117.50" stroke="#707070" stroke-width="1.0"/>
<line x1="508.55" y1="132.30" x2="508.55" y2="137.40" stroke="#707070" stroke-width="1.0"/>
<rect x="504.50" y="117.50" width="8.10" height="14.80" fill="#feb24c" stroke="#7a7a7a" stroke-width="0.8"/>
<line x1="504.50" y1="127.50" x2="512.60" y2="127.50" stroke="#2a2a2a" stroke-width="1.3"/>
<circle cx="507.60" cy="107.40" r="1.6" fill="#000"/>
<circle cx="509.90" cy="137.40" r="1.6" fill="#000"/>
<circle cx="509.70" cy="127.80" r="1.6" fill="#000"/>
<line x1="521.40" y1="146.40" x2="521.40" y2="168.40" stroke="#707070" stroke-width="1.0"/>
<rect x="517.50" y="124.20" width="7.80" height="22.20" fill="#ffeda0" stroke="#7a7a7a" stroke-width="0.8"/>
<line x1="517.50" y1="124.50" x2="525.30" y2="124.50" stroke="#2a2a2a" stroke-width="1.3"/>
<circle cx="520.70" cy="124.20" r="1.6" fill="#000"/>
<circle cx="521.50" cy="168.40" r="1.6" fill="#000"/>
<line x1="529.35" y1="100.20" x2="529.35" y2="113.40" stroke="#707070" stroke-width="1.0"/>
<line x1="529.35" y1="154.00" x2="529.35" y2="182.50" stroke="#707070" stroke-width="1.0"/>
<rect x="525.30" y="113.40" width="8.10" height="40.60" fill="#feb24c" stroke="#7a7a7a" stroke-width="0.8"/>
<line x1="525.30" y1="126.20" x2="533.40" y2="126.20" stroke="#2a2a2a" stroke-width="1.3"/>
<circle cx="531.00" cy="100.20" r="1.6" fill="#000"/>
<circle cx="530.70" cy="182.50" r="1.6" fill="#000"/>
<circle cx="529.50" cy="126.20" r="1.6" fill="#000"/>
<line x1="542.45" y1="126.60" x2="542.45" y2="129.60" stroke="#707070" stroke-width="1.0"/>
<line x1="542.45" y1="135.40" x2="542.45" y2="138.10" stroke="#707070" stroke-width="1.0"/>
<rect x="538.20" y="129.60" width="8.50" height="5.80" fill="#ffeda0" stroke="#7a7a7a" stroke-width="0.8"/>
<line x1="538.20" y1="132.70" x2="546.70" y2="132.70" stroke="#2a2a2a" stroke-width="1.3"/>
<circle cx="542.40" cy="126.60" r="1.6" fill="#000"/>
<circle cx="542.80" cy="138.10" r="1.6" fill="#000"/>
<line x1="550.70" y1="125.70" x2="550.70" y2="127.80" stroke="#707070" stroke-width="1.0"/>
<line x1="550.70" y1="131.40" x2="550.70" y2="133.20" stroke="#707070" stroke-width="1.0"/>
<rect x="546.70" y="127.80" width="8.00" height="3.60" fill="#feb24c" stroke="#7a7a7a" stroke-width="0.8"/>
<line x1="546.70" y1="129.10" x2="554.70" y2="129.10" stroke="#2a2a2a" stroke-width="1.3"/>
<circle cx="548.50" cy="125.70" r="1.6" fill="#000"/>
<circle cx="550.30" cy="133.20" r="1.6" fill="#000"/>
<line x1="563.55" y1="116.60" x2="563.55" y2="119.00" stroke="#707070" stroke-width="1.0"/>
<line x1="563.55" y1="124.20" x2="563.55" y2="126.40" stroke="#707070" stroke-width="1.0"/>
<rect x="559.40" y="119.00" width="8.30" height="5.20" fill="#ffeda0" stroke="#7a7a7a" stroke-width="0.8"/>
<line x1="559.40" y1="121.90" x2="567.70" y2="121.90" stroke="#2a2a2a" stroke-width="1.3"/>
<circle cx="564.10" cy="116.60" r="1.6" fill="#000"/>
<circle cx="564.10" cy="126.40" r="1.6" fill="#000"/>
<line x1="571.65" y1="123.00" x2="571.65" y2="131.40" stroke="#707070" stroke-width="1.0"/>
<line x1="571.65" y1="147.10" x2="571.65" y2="154.90" stroke="#707070" stroke-width="1.0"/>
<rect x="567.70" y="131.40" width="7.90" height="15.70" fill="#feb24c" stroke="#7a7a7a" stroke-width="0.8"/>
<line x1="567.70" y1="139.00" x2="575.60" y2="139.00" stroke="#2a2a2a" stroke-width="1.3"/>
<circle cx="573.40" cy="123.00" r="1.6" fill="#000"/>
<circle cx="571.30" cy="154.90" r="1.6" fill="#000"/>
<line x1="591.90" y1="89.40" x2="591.90" y2="91.90" stroke="#707070" stroke-width="1.0"/>
<line x1="591.90" y1="108.30" x2="591.90" y2="124.40" stroke="#707070" stroke-width="1.0"/>
<rect x="587.90" y="91.90" width="8.00" height="16.40" fill="#ffeda0" stroke="#7a7a7a" stroke-width="0.8"/>
<line x1="587.90" y1="92.70" x2="595.90" y2="92.70" stroke="#2a2a2a" stroke-width="1.3"/>
<circle cx="590.30" cy="89.40" r="1.6" fill="#000"/>
<circle cx="592.30" cy="92.70" r="1.6" fill="#000"/>
<circle cx="593.10" cy="124.40" r="1.6" fill="#000"/>
<line x1="599.85" y1="92.40" x2="599.85" y2="93.00" stroke="#707070" stroke-width="1.0"/>
<line x1="599.85" y1="98.40" x2="599.85" y2="103.90" stroke="#707070" stroke-width="1.0"/>
<rect x="595.90" y="93.00" width="7.90" height="5.40" fill="#feb24c" stroke="#7a7a7a" stroke-width="0.8"/>
<line x1="595.90" y1="93.30" x2="603.80" y2="93.30" stroke="#2a2a2a" stroke-width="1.3"/>
<circle cx="600.00" cy="92.40" r="1.6" fill="#000"/>
<circle cx="600.90" cy="103.90" r="1.6" fill="#000"/>
<line x1="612.80" y1="84.50" x2="612.80" y2="86.90" stroke="#707070" stroke-width="1.0"/>
<line x1="612.80" y1="91.00" x2="612.80" y2="93.00" stroke="#707070" stroke-width="1.0"/>
<rect x="609.10" y="86.90" width="7.40" height="4.10" fill="#ffeda0" stroke="#7a7a7a" stroke-width="0.8"/>
<line x1="609.10" y1="89.10" x2="616.50" y2="89.10" stroke="#2a2a2a" stroke-width="1.3"/>
<circle cx="613.70" cy="84.50" r="1.6" fill="#000"/>
<circle cx="612.50" cy="93.00" r="1.6" fill="#000"/>
<line x1="620.60" y1="84.80" x2="620.60" y2="87.40" stroke="#707070" stroke-width="1.0"/>
<line x1="620.60" y1="91.40" x2="620.60" y2="94.00" stroke="#707070" stroke-width="1.0"/>
<rect x="616.50" y="87.40" width="8.20" height="4.00" fill="#feb24c" stroke="#7a7a7a" stroke-width="0.8"/>
<line x1="616.50" y1="89.40" x2="624.70" y2="89.40" stroke="#2a2a2a" stroke-width="1.3"/>
<circle cx="623.00" cy="84.80" r="1.6" fill="#000"/>
<circle cx="618.90" cy="94.00" r="1.6" fill="#000"/>
<line x1="633.95" y1="70.20" x2="633.95" y2="86.50" stroke="#707070" stroke-width="1.0"/>
<line x1="633.95" y1="115.40" x2="633.95" y2="128.30" stroke="#707070" stroke-width="1.0"/>
<rect x="630.10" y="86.50" width="7.70" height="28.90" fill="#ffeda0" stroke="#7a7a7a" stroke-width="0.8"/>
<line x1="630.10" y1="103.40" x2="637.80" y2="103.40" stroke="#2a2a2a" stroke-width="1.3"/>
<circle cx="634.20" cy="103.40" r="1.6" fill="#000"/>
<circle cx="633.90" cy="70.20" r="1.6" fill="#000"/>
<circle cx="634.00" cy="128.30" r="1.6" fill="#000"/>
<line x1="641.75" y1="76.30" x2="641.75" y2="92.40" stroke="#707070" stroke-width="1.0"/>
<line x1="641.75" y1="125.00" x2="641.75" y2="141.10" stroke="#707070" stroke-width="1.0"/>
<rect x="637.80" y="92.40" width="7.90" height="32.60" fill="#feb24c" stroke="#7a7a7a" stroke-width="0.8"/>
<line x1="637.80" y1="108.30" x2="645.70" y2="108.30" stroke="#2a2a2a" stroke-width="1.3"/>
<circle cx="640.80" cy="76.30" r="1.6" fill="#000"/>
<circle cx="641.60" cy="141.10" r="1.6" fill="#000"/>
<line x1="655.10" y1="72.70" x2="655.10" y2="74.60" stroke="#707070" stroke-width="1.0"/>
<line x1="655.10" y1="102.50" x2="655.10" y2="129.30" stroke="#707070" stroke-width="1.0"/>
<rect x="651.40" y="74.60" width="7.40" height="27.90" fill="#ffeda0" stroke="#7a7a7a" stroke-width="0.8"/>
<line x1="651.40" y1="75.50" x2="658.80" y2="75.50" stroke="#2a2a2a" stroke-width="1.3"/>
<circle cx="654.70" cy="75.50" r="1.6" fill="#000"/>
<circle cx="656.00" cy="72.70" r="1.6" fill="#000"/>
<circle cx="653.40" cy="129.30" r="1.6" fill="#000"/>
<line x1="662.75" y1="76.30" x2="662.75" y2="79.20" stroke="#707070" stroke-width="1.0"/>
<line x1="662.75" y1="85.30" x2="662.75" y2="88.10" stroke="#707070" stroke-width="1.0"/>
<rect x="658.80" y="79.20" width="7.90" height="6.10" fill="#feb24c" stroke="#7a7a7a" stroke-width="0.8"/>
<line x1="658.80" y1="82.00" x2="666.70" y2="82.00" stroke="#2a2a2a" stroke-width="1.3"/>
<circle cx="664.20" cy="76.30" r="1.6" fill="#000"/>
<circle cx="664.20" cy="88.10" r="1.6" fill="#000"/>
<text x="602.50" y="157.60" font-size="10" text-anchor="start" font-weight="normal" fill="#1a1a1a">Flux Phase</text>
<line x1="606.90" y1="164.70" x2="606.90" y2="173.50" stroke="#707070" stroke-width="0.8"/>
<rect x="603.00" y="166.00" width="7.80" height="6.20" fill="#ffeda0" stroke="#7a7a7a" stroke-width="0.8"/>
<line x1="603.00" y1="169.10" x2="610.80" y2="169.10" stroke="#2a2a2a" stroke-width="1.1"/>
<circle cx="606.90" cy="169.10" r="1.45" fill="#000"/>
<text x="617.40" y="171.90" font-size="8.4" text-anchor="start" font-weight="normal" fill="#1a1a1a">Transient Flux</text>
<line x1="606.90" y1="174.70" x2="606.90" y2="183.20" stroke="#707070" stroke-width="0.8"/>
<rect x="603.00" y="176.00" width="7.80" height="5.90" fill="#feb24c" stroke="#7a7a7a" stroke-width="0.8"/>
<line x1="603.00" y1="178.95" x2="610.80" y2="178.95" stroke="#2a2a2a" stroke-width="1.1"/>
<circle cx="606.90" cy="178.95" r="1.45" fill="#000"/>
<text x="617.40" y="181.70" font-size="8.4" text-anchor="start" font-weight="normal" fill="#1a1a1a">Equilibrium Flux</text>
<text x="2.90" y="230.90" font-size="23" text-anchor="start" font-weight="bold" fill="#000">c</text>
<rect x="56.50" y="228.70" width="133.80" height="11.90" fill="#fff" stroke="#4a4a4a" stroke-width="1.1"/>
<text x="119.80" y="237.89" font-size="9" text-anchor="middle" fill="#1a1a1a">Basalt</text>
<rect x="193.80" y="228.70" width="134.00" height="11.90" fill="#fff" stroke="#4a4a4a" stroke-width="1.1"/>
<text x="260.80" y="237.89" font-size="9" text-anchor="middle" fill="#1a1a1a">Limestone</text>
<line x1="56.60" y1="240.60" x2="56.60" y2="392.90" stroke="#333" stroke-width="1.1"/>
<line x1="54.40" y1="247.10" x2="56.60" y2="247.10" stroke="#333" stroke-width="0.8"/>
<text x="53.80" y="251.40" font-size="7.8" text-anchor="end" fill="#1a1a1a">10<tspan font-size="5.4" dy="-3.4">−7</tspan></text>
<line x1="54.40" y1="260.93" x2="56.60" y2="260.93" stroke="#333" stroke-width="0.8"/>
<text x="53.80" y="265.23" font-size="7.8" text-anchor="end" fill="#1a1a1a">10<tspan font-size="5.4" dy="-3.4">−8</tspan></text>
<line x1="54.40" y1="274.76" x2="56.60" y2="274.76" stroke="#333" stroke-width="0.8"/>
<text x="53.80" y="279.06" font-size="7.8" text-anchor="end" fill="#1a1a1a">10<tspan font-size="5.4" dy="-3.4">−9</tspan></text>
<line x1="54.40" y1="288.59" x2="56.60" y2="288.59" stroke="#333" stroke-width="0.8"/>
<text x="53.80" y="292.89" font-size="7.8" text-anchor="end" fill="#1a1a1a">10<tspan font-size="5.4" dy="-3.4">−10</tspan></text>
<line x1="54.40" y1="302.42" x2="56.60" y2="302.42" stroke="#333" stroke-width="0.8"/>
<text x="53.80" y="306.72" font-size="7.8" text-anchor="end" fill="#1a1a1a">10<tspan font-size="5.4" dy="-3.4">−11</tspan></text>
<line x1="54.40" y1="316.25" x2="56.60" y2="316.25" stroke="#333" stroke-width="0.8"/>
<text x="53.80" y="320.55" font-size="7.8" text-anchor="end" fill="#1a1a1a">10<tspan font-size="5.4" dy="-3.4">−12</tspan></text>
<line x1="54.40" y1="330.08" x2="56.60" y2="330.08" stroke="#333" stroke-width="0.8"/>
<text x="53.80" y="334.38" font-size="7.8" text-anchor="end" fill="#1a1a1a">10<tspan font-size="5.4" dy="-3.4">−13</tspan></text>
<line x1="54.40" y1="343.91" x2="56.60" y2="343.91" stroke="#333" stroke-width="0.8"/>
<text x="53.80" y="348.21" font-size="7.8" text-anchor="end" fill="#1a1a1a">10<tspan font-size="5.4" dy="-3.4">−14</tspan></text>
<line x1="54.40" y1="357.74" x2="56.60" y2="357.74" stroke="#333" stroke-width="0.8"/>
<text x="53.80" y="362.04" font-size="7.8" text-anchor="end" fill="#1a1a1a">10<tspan font-size="5.4" dy="-3.4">−15</tspan></text>
<line x1="54.40" y1="371.57" x2="56.60" y2="371.57" stroke="#333" stroke-width="0.8"/>
<text x="53.80" y="375.87" font-size="7.8" text-anchor="end" fill="#1a1a1a">10<tspan font-size="5.4" dy="-3.4">−16</tspan></text>
<line x1="56.50" y1="392.40" x2="190.30" y2="392.40" stroke="#555" stroke-width="1.1"/>
<line x1="75.61" y1="392.40" x2="75.61" y2="394.60" stroke="#333" stroke-width="0.8"/>
<line x1="107.47" y1="392.40" x2="107.47" y2="394.60" stroke="#333" stroke-width="0.8"/>
<line x1="139.33" y1="392.40" x2="139.33" y2="394.60" stroke="#333" stroke-width="0.8"/>
<line x1="171.19" y1="392.40" x2="171.19" y2="394.60" stroke="#333" stroke-width="0.8"/>
<text x="78.01" y="398.40" font-size="7.4" text-anchor="end" fill="#1a1a1a" transform="rotate(-45 78.01 398.40)">Entrance</text>
<text x="109.87" y="398.40" font-size="7.4" text-anchor="end" fill="#1a1a1a" transform="rotate(-45 109.87 398.40)">Twilight</text>
<text x="141.73" y="398.40" font-size="7.4" text-anchor="end" fill="#1a1a1a" transform="rotate(-45 141.73 398.40)">Transition</text>
<text x="173.59" y="398.40" font-size="7.4" text-anchor="end" fill="#1a1a1a" transform="rotate(-45 173.59 398.40)">Deep</text>
<line x1="193.80" y1="392.40" x2="327.80" y2="392.40" stroke="#555" stroke-width="1.1"/>
<line x1="212.94" y1="392.40" x2="212.94" y2="394.60" stroke="#333" stroke-width="0.8"/>
<line x1="244.85" y1="392.40" x2="244.85" y2="394.60" stroke="#333" stroke-width="0.8"/>
<line x1="276.75" y1="392.40" x2="276.75" y2="394.60" stroke="#333" stroke-width="0.8"/>
<line x1="308.66" y1="392.40" x2="308.66" y2="394.60" stroke="#333" stroke-width="0.8"/>
<text x="215.34" y="398.40" font-size="7.4" text-anchor="end" fill="#1a1a1a" transform="rotate(-45 215.34 398.40)">Entrance</text>
<text x="247.25" y="398.40" font-size="7.4" text-anchor="end" fill="#1a1a1a" transform="rotate(-45 247.25 398.40)">Twilight</text>
<text x="279.15" y="398.40" font-size="7.4" text-anchor="end" fill="#1a1a1a" transform="rotate(-45 279.15 398.40)">Transition</text>
<text x="311.06" y="398.40" font-size="7.4" text-anchor="end" fill="#1a1a1a" transform="rotate(-45 311.06 398.40)">Deep</text>
<text x="19.20" y="312.40" font-size="11.5" text-anchor="middle" font-weight="normal" fill="#1a1a1a" transform="rotate(-90 19.20 312.40)">Cell−specific reaction rate</text>
<text x="33.1" y="310.0" font-size="11.5" text-anchor="middle" fill="#1a1a1a" transform="rotate(-90 33.1 310.0)">(nmol cell s<tspan font-size="7.5" dy="-4.5">-1</tspan><tspan dy="4.5">)</tspan></text>
<line x1="67.71" y1="290.70" x2="67.71" y2="296.80" stroke="#333" stroke-width="0.7"/>
<line x1="67.71" y1="313.20" x2="67.71" y2="318.70" stroke="#333" stroke-width="0.7"/>
<rect x="63.91" y="296.80" width="7.60" height="16.40" fill="#cf3a50" stroke="#3c3c3c" stroke-width="0.7"/>
<line x1="63.91" y1="303.80" x2="71.51" y2="303.80" stroke="#2a2a2a" stroke-width="1.0"/>
<circle cx="67.09" cy="290.70" r="1.2" fill="#000"/>
<circle cx="67.82" cy="293.50" r="1.2" fill="#000"/>
<circle cx="67.40" cy="303.50" r="1.2" fill="#000"/>
<circle cx="67.96" cy="304.20" r="1.2" fill="#000"/>
<circle cx="68.02" cy="316.00" r="1.2" fill="#000"/>
<circle cx="66.67" cy="318.70" r="1.2" fill="#000"/>
<line x1="75.61" y1="312.70" x2="75.61" y2="321.50" stroke="#333" stroke-width="0.7"/>
<line x1="75.61" y1="341.50" x2="75.61" y2="344.60" stroke="#333" stroke-width="0.7"/>
<rect x="71.81" y="321.50" width="7.60" height="20.00" fill="#f58a4c" stroke="#3c3c3c" stroke-width="0.7"/>
<line x1="71.81" y1="335.20" x2="79.41" y2="335.20" stroke="#2a2a2a" stroke-width="1.0"/>
<circle cx="74.45" cy="312.70" r="1.2" fill="#000"/>
<circle cx="76.42" cy="316.00" r="1.2" fill="#000"/>
<circle cx="75.04" cy="331.50" r="1.2" fill="#000"/>
<circle cx="74.98" cy="338.00" r="1.2" fill="#000"/>
<circle cx="76.80" cy="343.00" r="1.2" fill="#000"/>
<circle cx="75.54" cy="344.60" r="1.2" fill="#000"/>
<line x1="83.51" y1="312.10" x2="83.51" y2="316.60" stroke="#333" stroke-width="0.7"/>
<rect x="79.71" y="291.10" width="7.60" height="21.00" fill="#fcd980" stroke="#3c3c3c" stroke-width="0.7"/>
<line x1="79.71" y1="300.90" x2="87.31" y2="300.90" stroke="#2a2a2a" stroke-width="1.0"/>
<circle cx="84.32" cy="291.10" r="1.2" fill="#000"/>
<circle cx="83.46" cy="311.10" r="1.2" fill="#000"/>
<circle cx="83.85" cy="316.60" r="1.2" fill="#000"/>
<line x1="99.57" y1="300.70" x2="99.57" y2="305.40" stroke="#333" stroke-width="0.7"/>
<rect x="95.77" y="305.40" width="7.60" height="5.10" fill="#cf3a50" stroke="#3c3c3c" stroke-width="0.7"/>
<line x1="95.77" y1="309.90" x2="103.37" y2="309.90" stroke="#2a2a2a" stroke-width="1.0"/>
<circle cx="98.73" cy="300.70" r="1.2" fill="#000"/>
<circle cx="99.90" cy="309.50" r="1.2" fill="#000"/>
<circle cx="100.45" cy="310.20" r="1.2" fill="#000"/>
<line x1="107.47" y1="326.60" x2="107.47" y2="328.60" stroke="#333" stroke-width="0.7"/>
<line x1="107.47" y1="331.10" x2="107.47" y2="332.30" stroke="#333" stroke-width="0.7"/>
<rect x="103.67" y="328.60" width="7.60" height="2.50" fill="#f58a4c" stroke="#3c3c3c" stroke-width="0.7"/>
<line x1="103.67" y1="329.80" x2="111.27" y2="329.80" stroke="#2a2a2a" stroke-width="1.0"/>
<circle cx="107.53" cy="326.60" r="1.2" fill="#000"/>
<circle cx="108.05" cy="329.80" r="1.2" fill="#000"/>
<circle cx="107.88" cy="332.30" r="1.2" fill="#000"/>
<line x1="115.37" y1="259.40" x2="115.37" y2="271.30" stroke="#333" stroke-width="0.7"/>
<line x1="115.37" y1="293.80" x2="115.37" y2="303.80" stroke="#333" stroke-width="0.7"/>
<rect x="111.57" y="271.30" width="7.60" height="22.50" fill="#fcd980" stroke="#3c3c3c" stroke-width="0.7"/>
<line x1="111.57" y1="283.50" x2="119.17" y2="283.50" stroke="#2a2a2a" stroke-width="1.0"/>
<circle cx="114.33" cy="259.40" r="1.2" fill="#000"/>
<circle cx="115.99" cy="283.50" r="1.2" fill="#000"/>
<circle cx="115.59" cy="303.80" r="1.2" fill="#000"/>
<line x1="131.43" y1="300.90" x2="131.43" y2="306.40" stroke="#333" stroke-width="0.7"/>
<line x1="131.43" y1="312.60" x2="131.43" y2="320.10" stroke="#333" stroke-width="0.7"/>
<rect x="127.63" y="306.40" width="7.60" height="6.20" fill="#cf3a50" stroke="#3c3c3c" stroke-width="0.7"/>
<line x1="127.63" y1="309.50" x2="135.23" y2="309.50" stroke="#2a2a2a" stroke-width="1.0"/>
<circle cx="130.95" cy="300.90" r="1.2" fill="#000"/>
<circle cx="130.30" cy="307.00" r="1.2" fill="#000"/>
<circle cx="132.31" cy="309.50" r="1.2" fill="#000"/>
<circle cx="131.36" cy="311.00" r="1.2" fill="#000"/>
<circle cx="131.95" cy="320.10" r="1.2" fill="#000"/>
<line x1="139.33" y1="327.00" x2="139.33" y2="334.30" stroke="#333" stroke-width="0.7"/>
<line x1="139.33" y1="343.50" x2="139.33" y2="352.10" stroke="#333" stroke-width="0.7"/>
<rect x="135.53" y="334.30" width="7.60" height="9.20" fill="#f58a4c" stroke="#3c3c3c" stroke-width="0.7"/>
<line x1="135.53" y1="335.80" x2="143.13" y2="335.80" stroke="#2a2a2a" stroke-width="1.0"/>
<circle cx="140.24" cy="327.00" r="1.2" fill="#000"/>
<circle cx="139.84" cy="335.00" r="1.2" fill="#000"/>
<circle cx="140.34" cy="343.50" r="1.2" fill="#000"/>
<circle cx="139.08" cy="352.10" r="1.2" fill="#000"/>
<line x1="147.23" y1="282.30" x2="147.23" y2="286.60" stroke="#333" stroke-width="0.7"/>
<line x1="147.23" y1="321.30" x2="147.23" y2="329.50" stroke="#333" stroke-width="0.7"/>
<rect x="143.43" y="286.60" width="7.60" height="34.70" fill="#fcd980" stroke="#3c3c3c" stroke-width="0.7"/>
<line x1="143.43" y1="299.30" x2="151.03" y2="299.30" stroke="#2a2a2a" stroke-width="1.0"/>
<circle cx="147.95" cy="282.30" r="1.2" fill="#000"/>
<circle cx="147.10" cy="287.00" r="1.2" fill="#000"/>
<circle cx="148.27" cy="299.30" r="1.2" fill="#000"/>
<circle cx="148.14" cy="321.30" r="1.2" fill="#000"/>
<circle cx="146.26" cy="329.50" r="1.2" fill="#000"/>
<line x1="163.29" y1="300.70" x2="163.29" y2="310.10" stroke="#333" stroke-width="0.7"/>
<line x1="163.29" y1="319.30" x2="163.29" y2="321.70" stroke="#333" stroke-width="0.7"/>
<rect x="159.49" y="310.10" width="7.60" height="9.20" fill="#cf3a50" stroke="#3c3c3c" stroke-width="0.7"/>
<line x1="159.49" y1="314.60" x2="167.09" y2="314.60" stroke="#2a2a2a" stroke-width="1.0"/>
<circle cx="162.41" cy="300.70" r="1.2" fill="#000"/>
<circle cx="162.61" cy="311.00" r="1.2" fill="#000"/>
<circle cx="164.40" cy="314.00" r="1.2" fill="#000"/>
<circle cx="163.13" cy="316.50" r="1.2" fill="#000"/>
<circle cx="163.59" cy="319.50" r="1.2" fill="#000"/>
<circle cx="162.81" cy="321.70" r="1.2" fill="#000"/>
<line x1="171.19" y1="323.90" x2="171.19" y2="332.30" stroke="#333" stroke-width="0.7"/>
<line x1="171.19" y1="343.30" x2="171.19" y2="348.00" stroke="#333" stroke-width="0.7"/>
<rect x="167.39" y="332.30" width="7.60" height="11.00" fill="#f58a4c" stroke="#3c3c3c" stroke-width="0.7"/>
<line x1="167.39" y1="335.80" x2="174.99" y2="335.80" stroke="#2a2a2a" stroke-width="1.0"/>
<circle cx="171.20" cy="323.90" r="1.2" fill="#000"/>
<circle cx="170.91" cy="333.00" r="1.2" fill="#000"/>
<circle cx="170.83" cy="335.50" r="1.2" fill="#000"/>
<circle cx="171.39" cy="337.00" r="1.2" fill="#000"/>
<circle cx="171.39" cy="340.00" r="1.2" fill="#000"/>
<circle cx="172.16" cy="344.50" r="1.2" fill="#000"/>
<circle cx="171.62" cy="348.00" r="1.2" fill="#000"/>
<line x1="179.09" y1="263.90" x2="179.09" y2="298.20" stroke="#333" stroke-width="0.7"/>
<line x1="179.09" y1="321.30" x2="179.09" y2="324.80" stroke="#333" stroke-width="0.7"/>
<rect x="175.29" y="298.20" width="7.60" height="23.10" fill="#fcd980" stroke="#3c3c3c" stroke-width="0.7"/>
<line x1="175.29" y1="317.30" x2="182.89" y2="317.30" stroke="#2a2a2a" stroke-width="1.0"/>
<circle cx="180.12" cy="263.90" r="1.2" fill="#000"/>
<circle cx="179.94" cy="298.20" r="1.2" fill="#000"/>
<circle cx="180.26" cy="317.30" r="1.2" fill="#000"/>
<circle cx="179.50" cy="321.50" r="1.2" fill="#000"/>
<circle cx="178.28" cy="324.80" r="1.2" fill="#000"/>
<line x1="204.94" y1="307.80" x2="204.94" y2="312.60" stroke="#333" stroke-width="0.7"/>
<line x1="204.94" y1="331.20" x2="204.94" y2="335.60" stroke="#333" stroke-width="0.7"/>
<rect x="201.14" y="312.60" width="7.60" height="18.60" fill="#cf3a50" stroke="#3c3c3c" stroke-width="0.7"/>
<line x1="201.14" y1="323.50" x2="208.74" y2="323.50" stroke="#2a2a2a" stroke-width="1.0"/>
<circle cx="205.81" cy="307.80" r="1.2" fill="#000"/>
<circle cx="206.06" cy="310.00" r="1.2" fill="#000"/>
<circle cx="205.91" cy="318.00" r="1.2" fill="#000"/>
<circle cx="205.11" cy="329.00" r="1.2" fill="#000"/>
<circle cx="205.46" cy="335.60" r="1.2" fill="#000"/>
<line x1="212.94" y1="332.80" x2="212.94" y2="339.00" stroke="#333" stroke-width="0.7"/>
<line x1="212.94" y1="354.70" x2="212.94" y2="366.80" stroke="#333" stroke-width="0.7"/>
<rect x="209.14" y="339.00" width="7.60" height="15.70" fill="#f58a4c" stroke="#3c3c3c" stroke-width="0.7"/>
<line x1="209.14" y1="347.10" x2="216.74" y2="347.10" stroke="#2a2a2a" stroke-width="1.0"/>
<circle cx="212.25" cy="332.80" r="1.2" fill="#000"/>
<circle cx="213.74" cy="335.00" r="1.2" fill="#000"/>
<circle cx="213.12" cy="345.00" r="1.2" fill="#000"/>
<circle cx="212.43" cy="347.00" r="1.2" fill="#000"/>
<circle cx="211.90" cy="349.50" r="1.2" fill="#000"/>
<circle cx="213.79" cy="356.50" r="1.2" fill="#000"/>
<circle cx="214.12" cy="366.80" r="1.2" fill="#000"/>
<line x1="220.94" y1="311.90" x2="220.94" y2="320.20" stroke="#333" stroke-width="0.7"/>
<line x1="220.94" y1="326.20" x2="220.94" y2="332.30" stroke="#333" stroke-width="0.7"/>
<rect x="217.14" y="320.20" width="7.60" height="6.00" fill="#fcd980" stroke="#3c3c3c" stroke-width="0.7"/>
<line x1="217.14" y1="323.50" x2="224.74" y2="323.50" stroke="#2a2a2a" stroke-width="1.0"/>
<circle cx="219.96" cy="311.90" r="1.2" fill="#000"/>
<circle cx="221.66" cy="322.50" r="1.2" fill="#000"/>
<circle cx="220.73" cy="324.00" r="1.2" fill="#000"/>
<circle cx="220.10" cy="332.30" r="1.2" fill="#000"/>
<line x1="236.85" y1="302.10" x2="236.85" y2="307.10" stroke="#333" stroke-width="0.7"/>
<line x1="236.85" y1="313.00" x2="236.85" y2="314.80" stroke="#333" stroke-width="0.7"/>
<rect x="233.05" y="307.10" width="7.60" height="5.90" fill="#cf3a50" stroke="#3c3c3c" stroke-width="0.7"/>
<line x1="233.05" y1="310.00" x2="240.65" y2="310.00" stroke="#2a2a2a" stroke-width="1.0"/>
<circle cx="236.35" cy="302.10" r="1.2" fill="#000"/>
<circle cx="237.49" cy="306.00" r="1.2" fill="#000"/>
<circle cx="237.74" cy="308.00" r="1.2" fill="#000"/>
<circle cx="235.75" cy="310.00" r="1.2" fill="#000"/>
<circle cx="237.12" cy="312.00" r="1.2" fill="#000"/>
<circle cx="235.76" cy="314.80" r="1.2" fill="#000"/>
<line x1="244.85" y1="330.50" x2="244.85" y2="333.40" stroke="#333" stroke-width="0.7"/>
<line x1="244.85" y1="338.90" x2="244.85" y2="340.00" stroke="#333" stroke-width="0.7"/>
<rect x="241.05" y="333.40" width="7.60" height="5.50" fill="#f58a4c" stroke="#3c3c3c" stroke-width="0.7"/>
<line x1="241.05" y1="336.20" x2="248.65" y2="336.20" stroke="#2a2a2a" stroke-width="1.0"/>
<circle cx="245.37" cy="330.50" r="1.2" fill="#000"/>
<circle cx="244.44" cy="332.00" r="1.2" fill="#000"/>
<circle cx="245.76" cy="334.00" r="1.2" fill="#000"/>
<circle cx="246.00" cy="336.00" r="1.2" fill="#000"/>
<circle cx="244.86" cy="338.00" r="1.2" fill="#000"/>
<circle cx="246.04" cy="340.00" r="1.2" fill="#000"/>
<line x1="252.85" y1="301.20" x2="252.85" y2="302.70" stroke="#333" stroke-width="0.7"/>
<line x1="252.85" y1="312.10" x2="252.85" y2="322.40" stroke="#333" stroke-width="0.7"/>
<rect x="249.05" y="302.70" width="7.60" height="9.40" fill="#fcd980" stroke="#3c3c3c" stroke-width="0.7"/>
<line x1="249.05" y1="308.60" x2="256.65" y2="308.60" stroke="#2a2a2a" stroke-width="1.0"/>
<circle cx="252.39" cy="301.20" r="1.2" fill="#000"/>
<circle cx="251.83" cy="304.50" r="1.2" fill="#000"/>
<circle cx="253.09" cy="307.00" r="1.2" fill="#000"/>
<circle cx="251.72" cy="309.00" r="1.2" fill="#000"/>
<circle cx="252.12" cy="310.50" r="1.2" fill="#000"/>
<circle cx="252.63" cy="322.40" r="1.2" fill="#000"/>
<circle cx="253.11" cy="279.70" r="1.2" fill="#000"/>
<rect x="264.95" y="314.80" width="7.60" height="2.60" fill="#cf3a50" stroke="#3c3c3c" stroke-width="0.7"/>
<line x1="264.95" y1="316.10" x2="272.55" y2="316.10" stroke="#2a2a2a" stroke-width="1.0"/>
<circle cx="267.93" cy="315.00" r="1.2" fill="#000"/>
<circle cx="267.65" cy="316.50" r="1.2" fill="#000"/>
<circle cx="269.64" cy="302.70" r="1.2" fill="#000"/>
<circle cx="268.31" cy="329.00" r="1.2" fill="#000"/>
<line x1="276.75" y1="341.00" x2="276.75" y2="341.20" stroke="#333" stroke-width="0.7"/>
<line x1="276.75" y1="345.50" x2="276.75" y2="350.80" stroke="#333" stroke-width="0.7"/>
<rect x="272.95" y="341.20" width="7.60" height="4.30" fill="#f58a4c" stroke="#3c3c3c" stroke-width="0.7"/>
<line x1="272.95" y1="342.30" x2="280.55" y2="342.30" stroke="#2a2a2a" stroke-width="1.0"/>
<circle cx="277.85" cy="341.00" r="1.2" fill="#000"/>
<circle cx="277.70" cy="342.50" r="1.2" fill="#000"/>
<circle cx="276.46" cy="344.00" r="1.2" fill="#000"/>
<circle cx="276.66" cy="350.80" r="1.2" fill="#000"/>
<circle cx="276.80" cy="323.10" r="1.2" fill="#000"/>
<line x1="284.75" y1="294.60" x2="284.75" y2="302.10" stroke="#333" stroke-width="0.7"/>
<line x1="284.75" y1="314.30" x2="284.75" y2="326.20" stroke="#333" stroke-width="0.7"/>
<rect x="280.95" y="302.10" width="7.60" height="12.20" fill="#fcd980" stroke="#3c3c3c" stroke-width="0.7"/>
<line x1="280.95" y1="310.00" x2="288.55" y2="310.00" stroke="#2a2a2a" stroke-width="1.0"/>
<circle cx="285.10" cy="294.60" r="1.2" fill="#000"/>
<circle cx="284.98" cy="304.00" r="1.2" fill="#000"/>
<circle cx="284.89" cy="308.00" r="1.2" fill="#000"/>
<circle cx="285.04" cy="310.00" r="1.2" fill="#000"/>
<circle cx="285.81" cy="312.50" r="1.2" fill="#000"/>
<circle cx="284.77" cy="326.20" r="1.2" fill="#000"/>
<line x1="300.66" y1="326.20" x2="300.66" y2="337.70" stroke="#333" stroke-width="0.7"/>
<rect x="296.86" y="314.30" width="7.60" height="11.90" fill="#cf3a50" stroke="#3c3c3c" stroke-width="0.7"/>
<line x1="296.86" y1="318.10" x2="304.46" y2="318.10" stroke="#2a2a2a" stroke-width="1.0"/>
<circle cx="300.49" cy="314.50" r="1.2" fill="#000"/>
<circle cx="301.19" cy="316.50" r="1.2" fill="#000"/>
<circle cx="300.03" cy="318.00" r="1.2" fill="#000"/>
<circle cx="300.18" cy="321.50" r="1.2" fill="#000"/>
<circle cx="301.80" cy="337.70" r="1.2" fill="#000"/>
<circle cx="300.71" cy="289.60" r="1.2" fill="#000"/>
<line x1="308.66" y1="337.20" x2="308.66" y2="339.40" stroke="#333" stroke-width="0.7"/>
<line x1="308.66" y1="346.40" x2="308.66" y2="353.00" stroke="#333" stroke-width="0.7"/>
<rect x="304.86" y="339.40" width="7.60" height="7.00" fill="#f58a4c" stroke="#3c3c3c" stroke-width="0.7"/>
<line x1="304.86" y1="345.50" x2="312.46" y2="345.50" stroke="#2a2a2a" stroke-width="1.0"/>
<circle cx="308.77" cy="337.20" r="1.2" fill="#000"/>
<circle cx="307.48" cy="345.00" r="1.2" fill="#000"/>
<circle cx="308.45" cy="346.00" r="1.2" fill="#000"/>
<circle cx="308.85" cy="353.00" r="1.2" fill="#000"/>
<circle cx="307.51" cy="288.90" r="1.2" fill="#000"/>
<line x1="316.66" y1="320.50" x2="316.66" y2="320.70" stroke="#333" stroke-width="0.7"/>
<rect x="312.86" y="320.70" width="7.60" height="4.60" fill="#fcd980" stroke="#3c3c3c" stroke-width="0.7"/>
<line x1="312.86" y1="322.90" x2="320.46" y2="322.90" stroke="#2a2a2a" stroke-width="1.0"/>
<circle cx="316.94" cy="320.50" r="1.2" fill="#000"/>
<circle cx="316.97" cy="322.00" r="1.2" fill="#000"/>
<circle cx="315.60" cy="323.50" r="1.2" fill="#000"/>
<circle cx="316.96" cy="324.50" r="1.2" fill="#000"/>
<circle cx="316.58" cy="291.30" r="1.2" fill="#000"/>
<circle cx="317.09" cy="335.10" r="1.2" fill="#000"/>
<text x="300.80" y="250.30" font-size="8.7" text-anchor="start" font-weight="normal" fill="#1a1a1a">Gas</text>
<line x1="304.90" y1="256.10" x2="304.90" y2="263.10" stroke="#555" stroke-width="0.7"/>
<rect x="301.40" y="257.30" width="7.00" height="4.60" fill="#cf3a50" stroke="#444" stroke-width="0.7"/>
<line x1="301.40" y1="259.60" x2="308.40" y2="259.60" stroke="#2a2a2a" stroke-width="0.9"/>
<circle cx="304.90" cy="259.60" r="1.1" fill="#000"/>
<text x="313.70" y="261.50" font-size="6.8" text-anchor="start" font-weight="normal" fill="#1a1a1a">H<tspan font-size="4.8" dy="1.5">2</tspan></text>
<line x1="304.90" y1="264.70" x2="304.90" y2="271.80" stroke="#555" stroke-width="0.7"/>
<rect x="301.40" y="265.90" width="7.00" height="4.70" fill="#f58a4c" stroke="#444" stroke-width="0.7"/>
<line x1="301.40" y1="268.25" x2="308.40" y2="268.25" stroke="#2a2a2a" stroke-width="0.9"/>
<circle cx="304.90" cy="268.25" r="1.1" fill="#000"/>
<text x="313.70" y="270.00" font-size="6.8" text-anchor="start" font-weight="normal" fill="#1a1a1a">CO</text>
<line x1="304.90" y1="272.70" x2="304.90" y2="279.70" stroke="#555" stroke-width="0.7"/>
<rect x="301.40" y="273.90" width="7.00" height="4.60" fill="#fcd980" stroke="#444" stroke-width="0.7"/>
<line x1="301.40" y1="276.20" x2="308.40" y2="276.20" stroke="#2a2a2a" stroke-width="0.9"/>
<circle cx="304.90" cy="276.20" r="1.1" fill="#000"/>
<text x="313.70" y="278.30" font-size="6.8" text-anchor="start" font-weight="normal" fill="#1a1a1a">CH<tspan font-size="4.8" dy="1.5">4</tspan></text>
<text x="359.20" y="229.10" font-size="15.3" text-anchor="start" font-weight="bold" fill="#000">d</text>
<rect x="401.90" y="228.70" width="133.50" height="12.00" fill="#fff" stroke="#4a4a4a" stroke-width="1.1"/>
<text x="465.05" y="237.94" font-size="9" text-anchor="middle" fill="#1a1a1a">Basalt</text>
<rect x="538.90" y="228.70" width="134.20" height="12.00" fill="#fff" stroke="#4a4a4a" stroke-width="1.1"/>
<text x="606.00" y="237.94" font-size="9" text-anchor="middle" fill="#1a1a1a">Limestone</text>
<line x1="402.30" y1="240.70" x2="402.30" y2="392.90" stroke="#7a7a7a" stroke-width="1.2"/>
<line x1="400.10" y1="261.60" x2="402.30" y2="261.60" stroke="#333" stroke-width="0.8"/>
<text x="399.90" y="265.20" font-size="7.8" text-anchor="end" fill="#1a1a1a">10<tspan font-size="5.4" dy="-2.8">−11</tspan></text>
<line x1="400.10" y1="275.39" x2="402.30" y2="275.39" stroke="#333" stroke-width="0.8"/>
<text x="399.90" y="278.99" font-size="7.8" text-anchor="end" fill="#1a1a1a">10<tspan font-size="5.4" dy="-2.8">−12</tspan></text>
<line x1="400.10" y1="289.18" x2="402.30" y2="289.18" stroke="#333" stroke-width="0.8"/>
<text x="399.90" y="292.78" font-size="7.8" text-anchor="end" fill="#1a1a1a">10<tspan font-size="5.4" dy="-2.8">−13</tspan></text>
<line x1="400.10" y1="302.97" x2="402.30" y2="302.97" stroke="#333" stroke-width="0.8"/>
<text x="399.90" y="306.57" font-size="7.8" text-anchor="end" fill="#1a1a1a">10<tspan font-size="5.4" dy="-2.8">−14</tspan></text>
<line x1="400.10" y1="316.76" x2="402.30" y2="316.76" stroke="#333" stroke-width="0.8"/>
<text x="399.90" y="320.36" font-size="7.8" text-anchor="end" fill="#1a1a1a">10<tspan font-size="5.4" dy="-2.8">−15</tspan></text>
<line x1="400.10" y1="330.55" x2="402.30" y2="330.55" stroke="#333" stroke-width="0.8"/>
<text x="399.90" y="334.15" font-size="7.8" text-anchor="end" fill="#1a1a1a">10<tspan font-size="5.4" dy="-2.8">−16</tspan></text>
<line x1="400.10" y1="344.34" x2="402.30" y2="344.34" stroke="#333" stroke-width="0.8"/>
<text x="399.90" y="347.94" font-size="7.8" text-anchor="end" fill="#1a1a1a">10<tspan font-size="5.4" dy="-2.8">−17</tspan></text>
<line x1="400.10" y1="358.13" x2="402.30" y2="358.13" stroke="#333" stroke-width="0.8"/>
<text x="399.90" y="361.73" font-size="7.8" text-anchor="end" fill="#1a1a1a">10<tspan font-size="5.4" dy="-2.8">−18</tspan></text>
<line x1="400.10" y1="371.92" x2="402.30" y2="371.92" stroke="#333" stroke-width="0.8"/>
<text x="399.90" y="375.52" font-size="7.8" text-anchor="end" fill="#1a1a1a">10<tspan font-size="5.4" dy="-2.8">−19</tspan></text>
<line x1="401.90" y1="392.50" x2="535.40" y2="392.50" stroke="#444" stroke-width="1.1"/>
<line x1="417.30" y1="392.50" x2="417.30" y2="394.70" stroke="#333" stroke-width="0.8"/>
<line x1="442.98" y1="392.50" x2="442.98" y2="394.70" stroke="#333" stroke-width="0.8"/>
<line x1="468.65" y1="392.50" x2="468.65" y2="394.70" stroke="#333" stroke-width="0.8"/>
<line x1="494.32" y1="392.50" x2="494.32" y2="394.70" stroke="#333" stroke-width="0.8"/>
<line x1="520.00" y1="392.50" x2="520.00" y2="394.70" stroke="#333" stroke-width="0.8"/>
<text x="419.70" y="398.50" font-size="7.4" text-anchor="end" fill="#1a1a1a" transform="rotate(-45 419.70 398.50)">Literature</text>
<text x="445.38" y="398.50" font-size="7.4" text-anchor="end" fill="#1a1a1a" transform="rotate(-45 445.38 398.50)">Entrance</text>
<text x="471.05" y="398.50" font-size="7.4" text-anchor="end" fill="#1a1a1a" transform="rotate(-45 471.05 398.50)">Twilight</text>
<text x="496.72" y="398.50" font-size="7.4" text-anchor="end" fill="#1a1a1a" transform="rotate(-45 496.72 398.50)">Transition</text>
<text x="522.40" y="398.50" font-size="7.4" text-anchor="end" fill="#1a1a1a" transform="rotate(-45 522.40 398.50)">Deep</text>
<line x1="538.90" y1="392.50" x2="673.10" y2="392.50" stroke="#444" stroke-width="1.1"/>
<line x1="554.38" y1="392.50" x2="554.38" y2="394.70" stroke="#333" stroke-width="0.8"/>
<line x1="580.19" y1="392.50" x2="580.19" y2="394.70" stroke="#333" stroke-width="0.8"/>
<line x1="606.00" y1="392.50" x2="606.00" y2="394.70" stroke="#333" stroke-width="0.8"/>
<line x1="631.81" y1="392.50" x2="631.81" y2="394.70" stroke="#333" stroke-width="0.8"/>
<line x1="657.62" y1="392.50" x2="657.62" y2="394.70" stroke="#333" stroke-width="0.8"/>
<text x="556.78" y="398.50" font-size="7.4" text-anchor="end" fill="#1a1a1a" transform="rotate(-45 556.78 398.50)">Literature</text>
<text x="582.59" y="398.50" font-size="7.4" text-anchor="end" fill="#1a1a1a" transform="rotate(-45 582.59 398.50)">Entrance</text>
<text x="608.40" y="398.50" font-size="7.4" text-anchor="end" fill="#1a1a1a" transform="rotate(-45 608.40 398.50)">Twilight</text>
<text x="634.21" y="398.50" font-size="7.4" text-anchor="end" fill="#1a1a1a" transform="rotate(-45 634.21 398.50)">Transition</text>
<text x="660.02" y="398.50" font-size="7.4" text-anchor="end" fill="#1a1a1a" transform="rotate(-45 660.02 398.50)">Deep</text>
<text x="377.6" y="311.4" font-size="10.8" text-anchor="middle" fill="#1a1a1a" transform="rotate(-90 377.6 311.4)">Power (W cell<tspan font-size="7.8" dx="0.8" dy="-5.6">−1</tspan><tspan dy="5.6" dx="0.6">)</tspan></text>
<rect x="408.00" y="266.00" width="5.10" height="27.40" fill="#c8f6c8" stroke="none" stroke-width="1"/>
<rect x="408.00" y="309.80" width="5.10" height="11.80" fill="#fee0a4" stroke="none" stroke-width="1"/>
<rect x="413.10" y="266.00" width="5.10" height="74.30" fill="#fffde2" stroke="none" stroke-width="1"/>
<rect x="418.20" y="285.70" width="5.10" height="56.00" fill="#bcf3fb" stroke="none" stroke-width="1"/>
<rect x="423.30" y="288.90" width="5.40" height="83.00" fill="#fde8f3" stroke="none" stroke-width="1"/>
<rect x="544.90" y="266.00" width="5.10" height="27.40" fill="#c8f6c8" stroke="none" stroke-width="1"/>
<rect x="544.90" y="309.80" width="5.10" height="11.80" fill="#fee0a4" stroke="none" stroke-width="1"/>
<rect x="550.00" y="266.00" width="5.10" height="74.30" fill="#fffde2" stroke="none" stroke-width="1"/>
<rect x="555.10" y="285.70" width="5.10" height="56.00" fill="#bcf3fb" stroke="none" stroke-width="1"/>
<rect x="560.20" y="288.90" width="5.40" height="83.00" fill="#fde8f3" stroke="none" stroke-width="1"/>
<line x1="436.68" y1="300.70" x2="436.68" y2="306.40" stroke="#333" stroke-width="0.7"/>
<line x1="436.68" y1="323.20" x2="436.68" y2="328.30" stroke="#333" stroke-width="0.7"/>
<rect x="433.68" y="306.40" width="6.00" height="16.80" fill="#cf3a50" stroke="#3c3c3c" stroke-width="0.7"/>
<line x1="433.68" y1="312.90" x2="439.68" y2="312.90" stroke="#2a2a2a" stroke-width="1.0"/>
<circle cx="436.32" cy="300.70" r="1.2" fill="#000"/>
<circle cx="435.98" cy="303.00" r="1.2" fill="#000"/>
<circle cx="436.98" cy="313.00" r="1.2" fill="#000"/>
<circle cx="435.82" cy="323.00" r="1.2" fill="#000"/>
<circle cx="436.75" cy="328.30" r="1.2" fill="#000"/>
<line x1="442.98" y1="321.20" x2="442.98" y2="330.20" stroke="#333" stroke-width="0.7"/>
<line x1="442.98" y1="349.40" x2="442.98" y2="352.70" stroke="#333" stroke-width="0.7"/>
<rect x="439.98" y="330.20" width="6.00" height="19.20" fill="#f58a4c" stroke="#3c3c3c" stroke-width="0.7"/>
<line x1="439.98" y1="342.90" x2="445.98" y2="342.90" stroke="#2a2a2a" stroke-width="1.0"/>
<circle cx="442.71" cy="321.20" r="1.2" fill="#000"/>
<circle cx="442.09" cy="324.00" r="1.2" fill="#000"/>
<circle cx="442.99" cy="338.00" r="1.2" fill="#000"/>
<circle cx="442.05" cy="346.00" r="1.2" fill="#000"/>
<circle cx="442.84" cy="350.00" r="1.2" fill="#000"/>
<circle cx="442.12" cy="352.70" r="1.2" fill="#000"/>
<line x1="449.28" y1="313.90" x2="449.28" y2="317.80" stroke="#333" stroke-width="0.7"/>
<rect x="446.28" y="292.20" width="6.00" height="21.70" fill="#fcd980" stroke="#3c3c3c" stroke-width="0.7"/>
<line x1="446.28" y1="302.50" x2="452.28" y2="302.50" stroke="#2a2a2a" stroke-width="1.0"/>
<circle cx="448.46" cy="292.20" r="1.2" fill="#000"/>
<circle cx="449.13" cy="312.50" r="1.2" fill="#000"/>
<circle cx="449.93" cy="317.80" r="1.2" fill="#000"/>
<line x1="462.35" y1="310.30" x2="462.35" y2="314.90" stroke="#333" stroke-width="0.7"/>
<rect x="459.35" y="314.90" width="6.00" height="4.90" fill="#cf3a50" stroke="#3c3c3c" stroke-width="0.7"/>
<line x1="459.35" y1="319.00" x2="465.35" y2="319.00" stroke="#2a2a2a" stroke-width="1.0"/>
<circle cx="461.60" cy="310.30" r="1.2" fill="#000"/>
<circle cx="461.80" cy="319.00" r="1.2" fill="#000"/>
<circle cx="462.60" cy="319.50" r="1.2" fill="#000"/>
<line x1="468.65" y1="335.00" x2="468.65" y2="336.60" stroke="#333" stroke-width="0.7"/>
<line x1="468.65" y1="338.50" x2="468.65" y2="340.50" stroke="#333" stroke-width="0.7"/>
<rect x="465.65" y="336.60" width="6.00" height="1.90" fill="#f58a4c" stroke="#3c3c3c" stroke-width="0.7"/>
<line x1="465.65" y1="337.60" x2="471.65" y2="337.60" stroke="#2a2a2a" stroke-width="1.0"/>
<circle cx="469.55" cy="335.00" r="1.2" fill="#000"/>
<circle cx="468.80" cy="337.60" r="1.2" fill="#000"/>
<circle cx="468.44" cy="340.50" r="1.2" fill="#000"/>
<line x1="474.95" y1="260.30" x2="474.95" y2="272.90" stroke="#333" stroke-width="0.7"/>
<line x1="474.95" y1="294.60" x2="474.95" y2="304.60" stroke="#333" stroke-width="0.7"/>
<rect x="471.95" y="272.90" width="6.00" height="21.70" fill="#fcd980" stroke="#3c3c3c" stroke-width="0.7"/>
<line x1="471.95" y1="284.90" x2="477.95" y2="284.90" stroke="#2a2a2a" stroke-width="1.0"/>
<circle cx="475.90" cy="260.30" r="1.2" fill="#000"/>
<circle cx="474.04" cy="284.90" r="1.2" fill="#000"/>
<circle cx="475.67" cy="304.60" r="1.2" fill="#000"/>
<line x1="488.02" y1="310.30" x2="488.02" y2="316.30" stroke="#333" stroke-width="0.7"/>
<line x1="488.02" y1="321.40" x2="488.02" y2="329.70" stroke="#333" stroke-width="0.7"/>
<rect x="485.02" y="316.30" width="6.00" height="5.10" fill="#cf3a50" stroke="#3c3c3c" stroke-width="0.7"/>
<line x1="485.02" y1="318.80" x2="491.02" y2="318.80" stroke="#2a2a2a" stroke-width="1.0"/>
<circle cx="487.60" cy="310.30" r="1.2" fill="#000"/>
<circle cx="487.31" cy="317.00" r="1.2" fill="#000"/>
<circle cx="487.26" cy="318.80" r="1.2" fill="#000"/>
<circle cx="487.64" cy="320.00" r="1.2" fill="#000"/>
<circle cx="488.66" cy="329.70" r="1.2" fill="#000"/>
<line x1="494.32" y1="336.00" x2="494.32" y2="342.90" stroke="#333" stroke-width="0.7"/>
<line x1="494.32" y1="352.30" x2="494.32" y2="359.20" stroke="#333" stroke-width="0.7"/>
<rect x="491.32" y="342.90" width="6.00" height="9.40" fill="#f58a4c" stroke="#3c3c3c" stroke-width="0.7"/>
<line x1="491.32" y1="343.50" x2="497.32" y2="343.50" stroke="#2a2a2a" stroke-width="1.0"/>
<circle cx="493.68" cy="336.00" r="1.2" fill="#000"/>
<circle cx="494.49" cy="343.00" r="1.2" fill="#000"/>
<circle cx="494.60" cy="348.00" r="1.2" fill="#000"/>
<circle cx="494.07" cy="352.30" r="1.2" fill="#000"/>
<circle cx="494.42" cy="359.20" r="1.2" fill="#000"/>
<line x1="500.62" y1="283.30" x2="500.62" y2="287.90" stroke="#333" stroke-width="0.7"/>
<line x1="500.62" y1="322.40" x2="500.62" y2="331.00" stroke="#333" stroke-width="0.7"/>
<rect x="497.62" y="287.90" width="6.00" height="34.50" fill="#fcd980" stroke="#3c3c3c" stroke-width="0.7"/>
<line x1="497.62" y1="300.70" x2="503.62" y2="300.70" stroke="#2a2a2a" stroke-width="1.0"/>
<circle cx="499.75" cy="283.30" r="1.2" fill="#000"/>
<circle cx="499.74" cy="288.00" r="1.2" fill="#000"/>
<circle cx="500.03" cy="300.70" r="1.2" fill="#000"/>
<circle cx="500.98" cy="322.40" r="1.2" fill="#000"/>
<circle cx="500.48" cy="331.00" r="1.2" fill="#000"/>
<line x1="513.70" y1="310.00" x2="513.70" y2="319.40" stroke="#333" stroke-width="0.7"/>
<line x1="513.70" y1="328.70" x2="513.70" y2="330.60" stroke="#333" stroke-width="0.7"/>
<rect x="510.70" y="319.40" width="6.00" height="9.30" fill="#cf3a50" stroke="#3c3c3c" stroke-width="0.7"/>
<line x1="510.70" y1="323.70" x2="516.70" y2="323.70" stroke="#2a2a2a" stroke-width="1.0"/>
<circle cx="513.32" cy="310.00" r="1.2" fill="#000"/>
<circle cx="513.87" cy="320.50" r="1.2" fill="#000"/>
<circle cx="513.60" cy="323.50" r="1.2" fill="#000"/>
<circle cx="513.30" cy="326.50" r="1.2" fill="#000"/>
<circle cx="514.28" cy="329.50" r="1.2" fill="#000"/>
<circle cx="514.09" cy="330.60" r="1.2" fill="#000"/>
<line x1="520.00" y1="332.00" x2="520.00" y2="340.50" stroke="#333" stroke-width="0.7"/>
<line x1="520.00" y1="351.30" x2="520.00" y2="356.30" stroke="#333" stroke-width="0.7"/>
<rect x="517.00" y="340.50" width="6.00" height="10.80" fill="#f58a4c" stroke="#3c3c3c" stroke-width="0.7"/>
<line x1="517.00" y1="343.80" x2="523.00" y2="343.80" stroke="#2a2a2a" stroke-width="1.0"/>
<circle cx="519.48" cy="332.00" r="1.2" fill="#000"/>
<circle cx="520.15" cy="340.50" r="1.2" fill="#000"/>
<circle cx="520.05" cy="342.00" r="1.2" fill="#000"/>
<circle cx="520.75" cy="344.00" r="1.2" fill="#000"/>
<circle cx="520.46" cy="346.00" r="1.2" fill="#000"/>
<circle cx="519.57" cy="353.00" r="1.2" fill="#000"/>
<circle cx="520.96" cy="356.30" r="1.2" fill="#000"/>
<line x1="526.30" y1="265.00" x2="526.30" y2="299.10" stroke="#333" stroke-width="0.7"/>
<line x1="526.30" y1="322.80" x2="526.30" y2="326.10" stroke="#333" stroke-width="0.7"/>
<rect x="523.30" y="299.10" width="6.00" height="23.70" fill="#fcd980" stroke="#3c3c3c" stroke-width="0.7"/>
<line x1="523.30" y1="318.40" x2="529.30" y2="318.40" stroke="#2a2a2a" stroke-width="1.0"/>
<circle cx="525.53" cy="265.00" r="1.2" fill="#000"/>
<circle cx="526.13" cy="299.10" r="1.2" fill="#000"/>
<circle cx="526.81" cy="318.40" r="1.2" fill="#000"/>
<circle cx="525.60" cy="323.00" r="1.2" fill="#000"/>
<circle cx="526.27" cy="326.10" r="1.2" fill="#000"/>
<line x1="573.99" y1="317.00" x2="573.99" y2="322.40" stroke="#333" stroke-width="0.7"/>
<line x1="573.99" y1="340.50" x2="573.99" y2="344.90" stroke="#333" stroke-width="0.7"/>
<rect x="570.99" y="322.40" width="6.00" height="18.10" fill="#cf3a50" stroke="#3c3c3c" stroke-width="0.7"/>
<line x1="570.99" y1="333.30" x2="576.99" y2="333.30" stroke="#2a2a2a" stroke-width="1.0"/>
<circle cx="573.07" cy="317.00" r="1.2" fill="#000"/>
<circle cx="574.33" cy="319.50" r="1.2" fill="#000"/>
<circle cx="574.52" cy="326.00" r="1.2" fill="#000"/>
<circle cx="574.14" cy="336.00" r="1.2" fill="#000"/>
<circle cx="574.74" cy="341.00" r="1.2" fill="#000"/>
<circle cx="573.62" cy="344.90" r="1.2" fill="#000"/>
<line x1="580.19" y1="341.20" x2="580.19" y2="347.10" stroke="#333" stroke-width="0.7"/>
<line x1="580.19" y1="363.50" x2="580.19" y2="374.90" stroke="#333" stroke-width="0.7"/>
<rect x="577.19" y="347.10" width="6.00" height="16.40" fill="#f58a4c" stroke="#3c3c3c" stroke-width="0.7"/>
<line x1="577.19" y1="355.20" x2="583.19" y2="355.20" stroke="#2a2a2a" stroke-width="1.0"/>
<circle cx="580.58" cy="341.20" r="1.2" fill="#000"/>
<circle cx="580.38" cy="343.50" r="1.2" fill="#000"/>
<circle cx="580.35" cy="352.00" r="1.2" fill="#000"/>
<circle cx="580.10" cy="357.00" r="1.2" fill="#000"/>
<circle cx="580.87" cy="362.00" r="1.2" fill="#000"/>
<circle cx="581.08" cy="374.90" r="1.2" fill="#000"/>
<line x1="586.39" y1="313.70" x2="586.39" y2="321.30" stroke="#333" stroke-width="0.7"/>
<line x1="586.39" y1="327.50" x2="586.39" y2="333.80" stroke="#333" stroke-width="0.7"/>
<rect x="583.39" y="321.30" width="6.00" height="6.20" fill="#fcd980" stroke="#3c3c3c" stroke-width="0.7"/>
<line x1="583.39" y1="324.60" x2="589.39" y2="324.60" stroke="#2a2a2a" stroke-width="1.0"/>
<circle cx="586.34" cy="313.70" r="1.2" fill="#000"/>
<circle cx="586.72" cy="323.50" r="1.2" fill="#000"/>
<circle cx="585.51" cy="325.00" r="1.2" fill="#000"/>
<circle cx="586.80" cy="333.80" r="1.2" fill="#000"/>
<line x1="599.80" y1="312.10" x2="599.80" y2="317.00" stroke="#333" stroke-width="0.7"/>
<line x1="599.80" y1="322.40" x2="599.80" y2="324.60" stroke="#333" stroke-width="0.7"/>
<rect x="596.80" y="317.00" width="6.00" height="5.40" fill="#cf3a50" stroke="#3c3c3c" stroke-width="0.7"/>
<line x1="596.80" y1="319.60" x2="602.80" y2="319.60" stroke="#2a2a2a" stroke-width="1.0"/>
<circle cx="600.09" cy="312.10" r="1.2" fill="#000"/>
<circle cx="600.79" cy="316.50" r="1.2" fill="#000"/>
<circle cx="600.44" cy="318.00" r="1.2" fill="#000"/>
<circle cx="599.37" cy="320.00" r="1.2" fill="#000"/>
<circle cx="599.57" cy="322.00" r="1.2" fill="#000"/>
<circle cx="600.14" cy="324.60" r="1.2" fill="#000"/>
<line x1="606.00" y1="339.00" x2="606.00" y2="342.70" stroke="#333" stroke-width="0.7"/>
<line x1="606.00" y1="347.10" x2="606.00" y2="348.60" stroke="#333" stroke-width="0.7"/>
<rect x="603.00" y="342.70" width="6.00" height="4.40" fill="#f58a4c" stroke="#3c3c3c" stroke-width="0.7"/>
<line x1="603.00" y1="345.00" x2="609.00" y2="345.00" stroke="#2a2a2a" stroke-width="1.0"/>
<circle cx="605.05" cy="339.00" r="1.2" fill="#000"/>
<circle cx="605.92" cy="341.00" r="1.2" fill="#000"/>
<circle cx="605.34" cy="343.50" r="1.2" fill="#000"/>
<circle cx="605.23" cy="345.00" r="1.2" fill="#000"/>
<circle cx="605.12" cy="347.00" r="1.2" fill="#000"/>
<circle cx="606.54" cy="348.60" r="1.2" fill="#000"/>
<line x1="612.20" y1="302.10" x2="612.20" y2="304.30" stroke="#333" stroke-width="0.7"/>
<line x1="612.20" y1="313.70" x2="612.20" y2="324.00" stroke="#333" stroke-width="0.7"/>
<rect x="609.20" y="304.30" width="6.00" height="9.40" fill="#fcd980" stroke="#3c3c3c" stroke-width="0.7"/>
<line x1="609.20" y1="310.40" x2="615.20" y2="310.40" stroke="#2a2a2a" stroke-width="1.0"/>
<circle cx="611.46" cy="302.10" r="1.2" fill="#000"/>
<circle cx="611.70" cy="305.00" r="1.2" fill="#000"/>
<circle cx="611.98" cy="308.00" r="1.2" fill="#000"/>
<circle cx="612.94" cy="310.00" r="1.2" fill="#000"/>
<circle cx="611.36" cy="312.00" r="1.2" fill="#000"/>
<circle cx="612.10" cy="324.00" r="1.2" fill="#000"/>
<circle cx="612.30" cy="281.50" r="1.2" fill="#000"/>
<rect x="622.61" y="324.60" width="6.00" height="2.90" fill="#cf3a50" stroke="#3c3c3c" stroke-width="0.7"/>
<line x1="622.61" y1="326.00" x2="628.61" y2="326.00" stroke="#2a2a2a" stroke-width="1.0"/>
<circle cx="626.37" cy="325.00" r="1.2" fill="#000"/>
<circle cx="626.25" cy="326.50" r="1.2" fill="#000"/>
<circle cx="626.34" cy="312.10" r="1.2" fill="#000"/>
<circle cx="625.16" cy="338.40" r="1.2" fill="#000"/>
<line x1="631.81" y1="349.50" x2="631.81" y2="349.90" stroke="#333" stroke-width="0.7"/>
<line x1="631.81" y1="353.60" x2="631.81" y2="359.10" stroke="#333" stroke-width="0.7"/>
<rect x="628.81" y="349.90" width="6.00" height="3.70" fill="#f58a4c" stroke="#3c3c3c" stroke-width="0.7"/>
<line x1="628.81" y1="351.50" x2="634.81" y2="351.50" stroke="#2a2a2a" stroke-width="1.0"/>
<circle cx="631.64" cy="349.50" r="1.2" fill="#000"/>
<circle cx="631.53" cy="351.00" r="1.2" fill="#000"/>
<circle cx="632.58" cy="352.50" r="1.2" fill="#000"/>
<circle cx="632.72" cy="359.10" r="1.2" fill="#000"/>
<circle cx="631.11" cy="331.90" r="1.2" fill="#000"/>
<line x1="638.01" y1="296.20" x2="638.01" y2="303.40" stroke="#333" stroke-width="0.7"/>
<line x1="638.01" y1="315.40" x2="638.01" y2="327.50" stroke="#333" stroke-width="0.7"/>
<rect x="635.01" y="303.40" width="6.00" height="12.00" fill="#fcd980" stroke="#3c3c3c" stroke-width="0.7"/>
<line x1="635.01" y1="312.10" x2="641.01" y2="312.10" stroke="#2a2a2a" stroke-width="1.0"/>
<circle cx="637.36" cy="296.20" r="1.2" fill="#000"/>
<circle cx="637.47" cy="304.00" r="1.2" fill="#000"/>
<circle cx="637.47" cy="309.00" r="1.2" fill="#000"/>
<circle cx="637.98" cy="312.00" r="1.2" fill="#000"/>
<circle cx="638.19" cy="314.00" r="1.2" fill="#000"/>
<circle cx="637.53" cy="327.50" r="1.2" fill="#000"/>
<line x1="651.42" y1="324.50" x2="651.42" y2="324.60" stroke="#333" stroke-width="0.7"/>
<line x1="651.42" y1="335.00" x2="651.42" y2="346.40" stroke="#333" stroke-width="0.7"/>
<rect x="648.42" y="324.60" width="6.00" height="10.40" fill="#cf3a50" stroke="#3c3c3c" stroke-width="0.7"/>
<line x1="648.42" y1="327.80" x2="654.42" y2="327.80" stroke="#2a2a2a" stroke-width="1.0"/>
<circle cx="650.42" cy="324.50" r="1.2" fill="#000"/>
<circle cx="651.25" cy="326.50" r="1.2" fill="#000"/>
<circle cx="651.15" cy="329.50" r="1.2" fill="#000"/>
<circle cx="651.55" cy="332.00" r="1.2" fill="#000"/>
<circle cx="652.32" cy="346.40" r="1.2" fill="#000"/>
<circle cx="651.80" cy="299.00" r="1.2" fill="#000"/>
<line x1="657.62" y1="345.30" x2="657.62" y2="347.10" stroke="#333" stroke-width="0.7"/>
<line x1="657.62" y1="354.30" x2="657.62" y2="361.30" stroke="#333" stroke-width="0.7"/>
<rect x="654.62" y="347.10" width="6.00" height="7.20" fill="#f58a4c" stroke="#3c3c3c" stroke-width="0.7"/>
<line x1="654.62" y1="353.60" x2="660.62" y2="353.60" stroke="#2a2a2a" stroke-width="1.0"/>
<circle cx="657.65" cy="345.30" r="1.2" fill="#000"/>
<circle cx="657.85" cy="352.00" r="1.2" fill="#000"/>
<circle cx="657.97" cy="353.50" r="1.2" fill="#000"/>
<circle cx="656.72" cy="354.50" r="1.2" fill="#000"/>
<circle cx="658.41" cy="361.30" r="1.2" fill="#000"/>
<circle cx="658.18" cy="296.80" r="1.2" fill="#000"/>
<line x1="663.82" y1="321.50" x2="663.82" y2="322.00" stroke="#333" stroke-width="0.7"/>
<rect x="660.82" y="322.00" width="6.00" height="4.40" fill="#fcd980" stroke="#3c3c3c" stroke-width="0.7"/>
<line x1="660.82" y1="324.00" x2="666.82" y2="324.00" stroke="#2a2a2a" stroke-width="1.0"/>
<circle cx="664.56" cy="321.50" r="1.2" fill="#000"/>
<circle cx="664.41" cy="323.00" r="1.2" fill="#000"/>
<circle cx="663.60" cy="324.50" r="1.2" fill="#000"/>
<circle cx="663.61" cy="325.50" r="1.2" fill="#000"/>
<circle cx="663.02" cy="292.90" r="1.2" fill="#000"/>
<circle cx="664.08" cy="336.70" r="1.2" fill="#000"/>
<text x="645.00" y="250.30" font-size="8.7" text-anchor="start" font-weight="normal" fill="#1a1a1a">Gas</text>
<line x1="649.70" y1="256.10" x2="649.70" y2="263.10" stroke="#555" stroke-width="0.7"/>
<rect x="646.20" y="257.30" width="7.00" height="4.60" fill="#cf3a50" stroke="#444" stroke-width="0.7"/>
<line x1="646.20" y1="259.60" x2="653.20" y2="259.60" stroke="#2a2a2a" stroke-width="0.9"/>
<circle cx="649.70" cy="259.60" r="1.1" fill="#000"/>
<text x="658.00" y="261.50" font-size="6.8" text-anchor="start" font-weight="normal" fill="#1a1a1a">H<tspan font-size="4.8" dy="1.5">2</tspan></text>
<line x1="649.70" y1="264.70" x2="649.70" y2="271.80" stroke="#555" stroke-width="0.7"/>
<rect x="646.20" y="265.90" width="7.00" height="4.70" fill="#f58a4c" stroke="#444" stroke-width="0.7"/>
<line x1="646.20" y1="268.25" x2="653.20" y2="268.25" stroke="#2a2a2a" stroke-width="0.9"/>
<circle cx="649.70" cy="268.25" r="1.1" fill="#000"/>
<text x="658.00" y="270.00" font-size="6.8" text-anchor="start" font-weight="normal" fill="#1a1a1a">CO</text>
<line x1="649.70" y1="272.70" x2="649.70" y2="279.70" stroke="#555" stroke-width="0.7"/>
<rect x="646.20" y="273.90" width="7.00" height="4.60" fill="#fcd980" stroke="#444" stroke-width="0.7"/>
<line x1="646.20" y1="276.20" x2="653.20" y2="276.20" stroke="#2a2a2a" stroke-width="0.9"/>
<circle cx="649.70" cy="276.20" r="1.1" fill="#000"/>
<text x="658.00" y="278.30" font-size="6.8" text-anchor="start" font-weight="normal" fill="#1a1a1a">CH<tspan font-size="4.8" dy="1.5">4</tspan></text>
<text x="4.00" y="435.50" font-size="25" text-anchor="start" font-weight="bold" fill="#000">e</text>
<rect x="54.60" y="444.00" width="122.50" height="14.80" fill="#fff" stroke="#4a4a4a" stroke-width="1.1"/>
<text x="115.85" y="455.51" font-size="10.3" text-anchor="middle" fill="#1a1a1a">NH<tspan font-size="5.8" dy="1.3">4</tspan><tspan font-size="5.8" dy="-6.4">+</tspan></text>
<line x1="54.60" y1="458.80" x2="54.60" y2="571.50" stroke="#555" stroke-width="1.1"/>
<line x1="54.60" y1="571.00" x2="177.10" y2="571.00" stroke="#555" stroke-width="1.1"/>
<line x1="72.10" y1="571.00" x2="72.10" y2="573.20" stroke="#666" stroke-width="0.8"/>
<line x1="101.27" y1="571.00" x2="101.27" y2="573.20" stroke="#666" stroke-width="0.8"/>
<line x1="130.43" y1="571.00" x2="130.43" y2="573.20" stroke="#666" stroke-width="0.8"/>
<line x1="159.60" y1="571.00" x2="159.60" y2="573.20" stroke="#666" stroke-width="0.8"/>
<text x="75.30" y="578.50" font-size="9.2" text-anchor="end" fill="#1a1a1a" transform="rotate(-45 75.30 578.50)">Entrance</text>
<text x="104.47" y="578.50" font-size="9.2" text-anchor="end" fill="#1a1a1a" transform="rotate(-45 104.47 578.50)">Twilight</text>
<text x="133.63" y="578.50" font-size="9.2" text-anchor="end" fill="#1a1a1a" transform="rotate(-45 133.63 578.50)">Transition</text>
<text x="162.80" y="578.50" font-size="9.2" text-anchor="end" fill="#1a1a1a" transform="rotate(-45 162.80 578.50)">Deep</text>
<rect x="222.10" y="444.00" width="123.40" height="14.80" fill="#fff" stroke="#4a4a4a" stroke-width="1.1"/>
<text x="283.80" y="455.51" font-size="10.3" text-anchor="middle" fill="#1a1a1a">NO<tspan font-size="5.8" dy="1.3">2</tspan><tspan font-size="5.8" dy="-6.4">-</tspan></text>
<line x1="222.10" y1="458.80" x2="222.10" y2="571.50" stroke="#555" stroke-width="1.1"/>
<line x1="222.10" y1="571.00" x2="345.50" y2="571.00" stroke="#555" stroke-width="1.1"/>
<line x1="239.73" y1="571.00" x2="239.73" y2="573.20" stroke="#666" stroke-width="0.8"/>
<line x1="269.11" y1="571.00" x2="269.11" y2="573.20" stroke="#666" stroke-width="0.8"/>
<line x1="298.49" y1="571.00" x2="298.49" y2="573.20" stroke="#666" stroke-width="0.8"/>
<line x1="327.87" y1="571.00" x2="327.87" y2="573.20" stroke="#666" stroke-width="0.8"/>
<text x="242.93" y="578.50" font-size="9.2" text-anchor="end" fill="#1a1a1a" transform="rotate(-45 242.93 578.50)">Entrance</text>
<text x="272.31" y="578.50" font-size="9.2" text-anchor="end" fill="#1a1a1a" transform="rotate(-45 272.31 578.50)">Twilight</text>
<text x="301.69" y="578.50" font-size="9.2" text-anchor="end" fill="#1a1a1a" transform="rotate(-45 301.69 578.50)">Transition</text>
<text x="331.07" y="578.50" font-size="9.2" text-anchor="end" fill="#1a1a1a" transform="rotate(-45 331.07 578.50)">Deep</text>
<rect x="390.70" y="444.00" width="123.00" height="14.80" fill="#fff" stroke="#4a4a4a" stroke-width="1.1"/>
<text x="452.20" y="455.51" font-size="10.3" text-anchor="middle" fill="#1a1a1a">NO<tspan font-size="5.8" dy="1.3">3</tspan><tspan font-size="5.8" dy="-6.4">-</tspan></text>
<line x1="390.70" y1="458.80" x2="390.70" y2="571.50" stroke="#555" stroke-width="1.1"/>
<line x1="390.70" y1="571.00" x2="507.20" y2="571.00" stroke="#555" stroke-width="1.1"/>
<line x1="408.27" y1="571.00" x2="408.27" y2="573.20" stroke="#666" stroke-width="0.8"/>
<line x1="437.56" y1="571.00" x2="437.56" y2="573.20" stroke="#666" stroke-width="0.8"/>
<line x1="466.84" y1="571.00" x2="466.84" y2="573.20" stroke="#666" stroke-width="0.8"/>
<line x1="496.13" y1="571.00" x2="496.13" y2="573.20" stroke="#666" stroke-width="0.8"/>
<text x="411.47" y="578.50" font-size="9.2" text-anchor="end" fill="#1a1a1a" transform="rotate(-45 411.47 578.50)">Entrance</text>
<text x="440.76" y="578.50" font-size="9.2" text-anchor="end" fill="#1a1a1a" transform="rotate(-45 440.76 578.50)">Twilight</text>
<text x="470.04" y="578.50" font-size="9.2" text-anchor="end" fill="#1a1a1a" transform="rotate(-45 470.04 578.50)">Transition</text>
<text x="499.33" y="578.50" font-size="9.2" text-anchor="end" fill="#1a1a1a" transform="rotate(-45 499.33 578.50)">Deep</text>
<rect x="549.40" y="444.00" width="122.20" height="14.80" fill="#fff" stroke="#4a4a4a" stroke-width="1.1"/>
<text x="610.50" y="455.51" font-size="10.3" text-anchor="middle" fill="#1a1a1a">SO<tspan font-size="5.8" dy="1.3">4</tspan><tspan font-size="5.8" dy="-6.4">2-</tspan></text>
<line x1="549.40" y1="458.80" x2="549.40" y2="571.50" stroke="#555" stroke-width="1.1"/>
<line x1="549.40" y1="571.00" x2="671.60" y2="571.00" stroke="#555" stroke-width="1.1"/>
<line x1="566.86" y1="571.00" x2="566.86" y2="573.20" stroke="#666" stroke-width="0.8"/>
<line x1="595.95" y1="571.00" x2="595.95" y2="573.20" stroke="#666" stroke-width="0.8"/>
<line x1="625.05" y1="571.00" x2="625.05" y2="573.20" stroke="#666" stroke-width="0.8"/>
<line x1="654.14" y1="571.00" x2="654.14" y2="573.20" stroke="#666" stroke-width="0.8"/>
<text x="570.06" y="578.50" font-size="9.2" text-anchor="end" fill="#1a1a1a" transform="rotate(-45 570.06 578.50)">Entrance</text>
<text x="599.15" y="578.50" font-size="9.2" text-anchor="end" fill="#1a1a1a" transform="rotate(-45 599.15 578.50)">Twilight</text>
<text x="628.25" y="578.50" font-size="9.2" text-anchor="end" fill="#1a1a1a" transform="rotate(-45 628.25 578.50)">Transition</text>
<text x="657.34" y="578.50" font-size="9.2" text-anchor="end" fill="#1a1a1a" transform="rotate(-45 657.34 578.50)">Deep</text>
<line x1="52.40" y1="479.80" x2="54.60" y2="479.80" stroke="#666" stroke-width="0.8"/>
<text x="51.60" y="482.80" font-size="8.6" text-anchor="end" font-weight="normal" fill="#1a1a1a">0</text>
<line x1="52.40" y1="513.20" x2="54.60" y2="513.20" stroke="#666" stroke-width="0.8"/>
<text x="51.60" y="516.20" font-size="8.6" text-anchor="end" font-weight="normal" fill="#1a1a1a">−2</text>
<line x1="52.40" y1="546.30" x2="54.60" y2="546.30" stroke="#666" stroke-width="0.8"/>
<text x="51.60" y="549.30" font-size="8.6" text-anchor="end" font-weight="normal" fill="#1a1a1a">−4</text>
<line x1="219.90" y1="478.60" x2="222.10" y2="478.60" stroke="#666" stroke-width="0.8"/>
<text x="219.10" y="481.60" font-size="8.6" text-anchor="end" font-weight="normal" fill="#1a1a1a">0.4</text>
<line x1="219.90" y1="500.40" x2="222.10" y2="500.40" stroke="#666" stroke-width="0.8"/>
<text x="219.10" y="503.40" font-size="8.6" text-anchor="end" font-weight="normal" fill="#1a1a1a">0.3</text>
<line x1="219.90" y1="522.30" x2="222.10" y2="522.30" stroke="#666" stroke-width="0.8"/>
<text x="219.10" y="525.30" font-size="8.6" text-anchor="end" font-weight="normal" fill="#1a1a1a">0.2</text>
<line x1="219.90" y1="544.20" x2="222.10" y2="544.20" stroke="#666" stroke-width="0.8"/>
<text x="219.10" y="547.20" font-size="8.6" text-anchor="end" font-weight="normal" fill="#1a1a1a">0.1</text>
<line x1="219.90" y1="565.40" x2="222.10" y2="565.40" stroke="#666" stroke-width="0.8"/>
<text x="219.10" y="568.40" font-size="8.6" text-anchor="end" font-weight="normal" fill="#1a1a1a">0.0</text>
<line x1="388.50" y1="477.60" x2="390.70" y2="477.60" stroke="#666" stroke-width="0.8"/>
<text x="387.70" y="480.60" font-size="8.6" text-anchor="end" font-weight="normal" fill="#1a1a1a">10.00</text>
<line x1="388.50" y1="501.40" x2="390.70" y2="501.40" stroke="#666" stroke-width="0.8"/>
<text x="387.70" y="504.40" font-size="8.6" text-anchor="end" font-weight="normal" fill="#1a1a1a">1.00</text>
<line x1="388.50" y1="525.30" x2="390.70" y2="525.30" stroke="#666" stroke-width="0.8"/>
<text x="387.70" y="528.30" font-size="8.6" text-anchor="end" font-weight="normal" fill="#1a1a1a">0.10</text>
<line x1="388.50" y1="549.00" x2="390.70" y2="549.00" stroke="#666" stroke-width="0.8"/>
<text x="387.70" y="552.00" font-size="8.6" text-anchor="end" font-weight="normal" fill="#1a1a1a">0.01</text>
<line x1="547.20" y1="481.30" x2="549.40" y2="481.30" stroke="#666" stroke-width="0.8"/>
<text x="546.40" y="484.30" font-size="8.6" text-anchor="end" font-weight="normal" fill="#1a1a1a">4</text>
<line x1="547.20" y1="510.90" x2="549.40" y2="510.90" stroke="#666" stroke-width="0.8"/>
<text x="546.40" y="513.90" font-size="8.6" text-anchor="end" font-weight="normal" fill="#1a1a1a">0</text>
<line x1="547.20" y1="540.60" x2="549.40" y2="540.60" stroke="#666" stroke-width="0.8"/>
<text x="546.40" y="543.60" font-size="8.6" text-anchor="end" font-weight="normal" fill="#1a1a1a">−4</text>
<line x1="547.20" y1="570.20" x2="549.40" y2="570.20" stroke="#666" stroke-width="0.8"/>
<text x="546.40" y="573.20" font-size="8.6" text-anchor="end" font-weight="normal" fill="#1a1a1a">−8</text>
<text x="8.70" y="506.30" font-size="11.2" text-anchor="middle" font-weight="normal" fill="#1a1a1a" transform="rotate(-90 8.70 506.30)">Uptake and accumulation</text>
<text x="22.2" y="507.7" font-size="12.2" text-anchor="middle" fill="#1a1a1a" transform="rotate(-90 22.2 507.7)">(μmol L<tspan font-size="8" dy="-4.7">-1</tspan><tspan dy="4.7">hr</tspan><tspan font-size="8" dy="-4.7">-1</tspan><tspan dy="4.7">)</tspan></text>
<line x1="71.80" y1="477.30" x2="71.80" y2="482.40" stroke="#555" stroke-width="1.0"/>
<line x1="71.80" y1="493.60" x2="71.80" y2="494.30" stroke="#555" stroke-width="1.0"/>
<rect x="60.90" y="482.40" width="21.80" height="11.20" fill="#d7191c" stroke="#444" stroke-width="0.9"/>
<line x1="60.90" y1="488.20" x2="82.70" y2="488.20" stroke="#2a2a2a" stroke-width="1.5"/>
<circle cx="71.80" cy="477.30" r="1.45" fill="#000"/>
<circle cx="71.80" cy="484.00" r="1.45" fill="#000"/>
<circle cx="71.80" cy="485.50" r="1.45" fill="#000"/>
<circle cx="71.80" cy="490.50" r="1.45" fill="#000"/>
<circle cx="71.80" cy="492.00" r="1.45" fill="#000"/>
<circle cx="71.80" cy="494.30" r="1.45" fill="#000"/>
<circle cx="71.80" cy="464.30" r="1.45" fill="#000"/>
<circle cx="71.80" cy="513.20" r="1.45" fill="#000"/>
<line x1="101.15" y1="480.40" x2="101.15" y2="485.50" stroke="#555" stroke-width="1.0"/>
<line x1="101.15" y1="500.20" x2="101.15" y2="510.40" stroke="#555" stroke-width="1.0"/>
<rect x="90.30" y="485.50" width="21.70" height="14.70" fill="#fdae61" stroke="#444" stroke-width="0.9"/>
<line x1="90.30" y1="490.40" x2="112.00" y2="490.40" stroke="#2a2a2a" stroke-width="1.5"/>
<circle cx="101.15" cy="480.40" r="1.45" fill="#000"/>
<circle cx="101.15" cy="490.40" r="1.45" fill="#000"/>
<circle cx="101.15" cy="510.40" r="1.45" fill="#000"/>
<line x1="130.45" y1="486.40" x2="130.45" y2="501.60" stroke="#555" stroke-width="1.0"/>
<line x1="130.45" y1="533.10" x2="130.45" y2="549.90" stroke="#555" stroke-width="1.0"/>
<rect x="119.40" y="501.60" width="22.10" height="31.50" fill="#ffffbf" stroke="#444" stroke-width="0.9"/>
<line x1="119.40" y1="517.00" x2="141.50" y2="517.00" stroke="#2a2a2a" stroke-width="1.5"/>
<circle cx="130.45" cy="486.40" r="1.45" fill="#000"/>
<circle cx="130.45" cy="517.00" r="1.45" fill="#000"/>
<circle cx="130.45" cy="549.90" r="1.45" fill="#000"/>
<line x1="159.80" y1="478.40" x2="159.80" y2="481.80" stroke="#555" stroke-width="1.0"/>
<line x1="159.80" y1="525.50" x2="159.80" y2="566.00" stroke="#555" stroke-width="1.0"/>
<rect x="148.90" y="481.80" width="21.80" height="43.70" fill="#abdda4" stroke="#444" stroke-width="0.9"/>
<line x1="148.90" y1="484.80" x2="170.70" y2="484.80" stroke="#2a2a2a" stroke-width="1.5"/>
<circle cx="159.80" cy="478.40" r="1.45" fill="#000"/>
<circle cx="159.80" cy="484.80" r="1.45" fill="#000"/>
<circle cx="159.80" cy="566.00" r="1.45" fill="#000"/>
<line x1="53.95" y1="479.70" x2="178.40" y2="479.70" stroke="#000" stroke-width="2.5" stroke-dasharray="2.5 7.45"/>
<line x1="239.95" y1="540.50" x2="239.95" y2="550.00" stroke="#555" stroke-width="1.0"/>
<line x1="239.95" y1="564.90" x2="239.95" y2="565.00" stroke="#555" stroke-width="1.0"/>
<rect x="228.90" y="550.00" width="22.10" height="14.90" fill="#d7191c" stroke="#444" stroke-width="0.9"/>
<line x1="228.90" y1="564.00" x2="251.00" y2="564.00" stroke="#2a2a2a" stroke-width="1.5"/>
<circle cx="239.95" cy="540.50" r="1.45" fill="#000"/>
<circle cx="239.95" cy="552.80" r="1.45" fill="#000"/>
<circle cx="239.95" cy="563.80" r="1.45" fill="#000"/>
<circle cx="239.95" cy="565.00" r="1.45" fill="#000"/>
<circle cx="239.95" cy="466.30" r="1.45" fill="#000"/>
<line x1="269.40" y1="558.60" x2="269.40" y2="559.80" stroke="#555" stroke-width="1.0"/>
<line x1="269.40" y1="562.80" x2="269.40" y2="564.00" stroke="#555" stroke-width="1.0"/>
<rect x="258.20" y="559.80" width="22.40" height="3.00" fill="#fdae61" stroke="#444" stroke-width="0.9"/>
<line x1="258.20" y1="561.40" x2="280.60" y2="561.40" stroke="#2a2a2a" stroke-width="1.5"/>
<circle cx="269.40" cy="558.60" r="1.45" fill="#000"/>
<circle cx="269.40" cy="560.50" r="1.45" fill="#000"/>
<circle cx="269.40" cy="564.00" r="1.45" fill="#000"/>
<line x1="298.90" y1="464.20" x2="298.90" y2="511.70" stroke="#555" stroke-width="1.0"/>
<line x1="298.90" y1="562.60" x2="298.90" y2="565.00" stroke="#555" stroke-width="1.0"/>
<rect x="287.70" y="511.70" width="22.40" height="50.90" fill="#ffffbf" stroke="#444" stroke-width="0.9"/>
<line x1="287.70" y1="559.30" x2="310.10" y2="559.30" stroke="#2a2a2a" stroke-width="1.5"/>
<circle cx="298.90" cy="464.20" r="1.45" fill="#000"/>
<circle cx="298.90" cy="560.00" r="1.45" fill="#000"/>
<circle cx="298.90" cy="565.00" r="1.45" fill="#000"/>
<line x1="327.95" y1="539.20" x2="327.95" y2="551.10" stroke="#555" stroke-width="1.0"/>
<line x1="327.95" y1="563.50" x2="327.95" y2="564.50" stroke="#555" stroke-width="1.0"/>
<rect x="316.80" y="551.10" width="22.30" height="12.40" fill="#abdda4" stroke="#444" stroke-width="0.9"/>
<line x1="316.80" y1="562.70" x2="339.10" y2="562.70" stroke="#2a2a2a" stroke-width="1.5"/>
<circle cx="327.95" cy="539.20" r="1.45" fill="#000"/>
<circle cx="327.95" cy="562.50" r="1.45" fill="#000"/>
<circle cx="327.95" cy="564.50" r="1.45" fill="#000"/>
<line x1="221.75" y1="565.20" x2="346.80" y2="565.20" stroke="#000" stroke-width="2.5" stroke-dasharray="2.5 7.45"/>
<line x1="408.20" y1="493.30" x2="408.20" y2="494.40" stroke="#555" stroke-width="1.0"/>
<line x1="408.20" y1="503.60" x2="408.20" y2="508.80" stroke="#555" stroke-width="1.0"/>
<rect x="397.30" y="494.40" width="21.80" height="9.20" fill="#d7191c" stroke="#444" stroke-width="0.9"/>
<line x1="397.30" y1="496.00" x2="419.10" y2="496.00" stroke="#2a2a2a" stroke-width="1.5"/>
<circle cx="408.20" cy="493.30" r="1.45" fill="#000"/>
<circle cx="408.20" cy="495.00" r="1.45" fill="#000"/>
<circle cx="408.20" cy="497.00" r="1.45" fill="#000"/>
<circle cx="408.20" cy="500.00" r="1.45" fill="#000"/>
<circle cx="408.20" cy="503.00" r="1.45" fill="#000"/>
<circle cx="408.20" cy="508.80" r="1.45" fill="#000"/>
<circle cx="408.20" cy="464.20" r="1.45" fill="#000"/>
<line x1="437.50" y1="487.30" x2="437.50" y2="496.00" stroke="#555" stroke-width="1.0"/>
<line x1="437.50" y1="507.80" x2="437.50" y2="510.40" stroke="#555" stroke-width="1.0"/>
<rect x="426.50" y="496.00" width="22.00" height="11.80" fill="#fdae61" stroke="#444" stroke-width="0.9"/>
<line x1="426.50" y1="505.70" x2="448.50" y2="505.70" stroke="#2a2a2a" stroke-width="1.5"/>
<circle cx="437.50" cy="487.30" r="1.45" fill="#000"/>
<circle cx="437.50" cy="504.90" r="1.45" fill="#000"/>
<circle cx="437.50" cy="510.40" r="1.45" fill="#000"/>
<line x1="466.80" y1="505.20" x2="466.80" y2="524.10" stroke="#555" stroke-width="1.0"/>
<line x1="466.80" y1="554.30" x2="466.80" y2="565.60" stroke="#555" stroke-width="1.0"/>
<rect x="455.90" y="524.10" width="21.80" height="30.20" fill="#ffffbf" stroke="#444" stroke-width="0.9"/>
<line x1="455.90" y1="542.50" x2="477.70" y2="542.50" stroke="#2a2a2a" stroke-width="1.5"/>
<circle cx="466.80" cy="505.20" r="1.45" fill="#000"/>
<circle cx="466.80" cy="542.50" r="1.45" fill="#000"/>
<circle cx="466.80" cy="565.60" r="1.45" fill="#000"/>
<line x1="495.70" y1="496.00" x2="495.70" y2="507.50" stroke="#555" stroke-width="1.0"/>
<line x1="495.70" y1="521.50" x2="495.70" y2="524.60" stroke="#555" stroke-width="1.0"/>
<rect x="484.80" y="507.50" width="21.80" height="14.00" fill="#abdda4" stroke="#444" stroke-width="0.9"/>
<line x1="484.80" y1="518.30" x2="506.60" y2="518.30" stroke="#2a2a2a" stroke-width="1.5"/>
<circle cx="495.70" cy="496.00" r="1.45" fill="#000"/>
<circle cx="495.70" cy="518.30" r="1.45" fill="#000"/>
<circle cx="495.70" cy="524.60" r="1.45" fill="#000"/>
<line x1="391.0" y1="569.9" x2="507.2" y2="569.9" stroke="#000" stroke-width="1.3" stroke-dasharray="2.5 7.45"/>
<line x1="566.60" y1="497.30" x2="566.60" y2="501.70" stroke="#555" stroke-width="1.0"/>
<line x1="566.60" y1="507.50" x2="566.60" y2="508.80" stroke="#555" stroke-width="1.0"/>
<rect x="555.70" y="501.70" width="21.80" height="5.80" fill="#d7191c" stroke="#444" stroke-width="0.9"/>
<line x1="555.70" y1="502.50" x2="577.50" y2="502.50" stroke="#2a2a2a" stroke-width="1.5"/>
<circle cx="566.60" cy="497.30" r="1.45" fill="#000"/>
<circle cx="566.60" cy="502.30" r="1.45" fill="#000"/>
<circle cx="566.60" cy="507.80" r="1.45" fill="#000"/>
<circle cx="566.60" cy="508.80" r="1.45" fill="#000"/>
<rect x="584.90" y="502.10" width="22.10" height="0.40" fill="#fdae61" stroke="#444" stroke-width="0.9"/>
<line x1="584.90" y1="502.30" x2="607.00" y2="502.30" stroke="#2a2a2a" stroke-width="1.5"/>
<circle cx="595.95" cy="502.30" r="1.45" fill="#000"/>
<line x1="625.80" y1="497.00" x2="625.80" y2="503.10" stroke="#555" stroke-width="1.0"/>
<rect x="614.90" y="503.10" width="21.80" height="6.50" fill="#ffffbf" stroke="#444" stroke-width="0.9"/>
<line x1="614.90" y1="508.80" x2="636.70" y2="508.80" stroke="#2a2a2a" stroke-width="1.5"/>
<circle cx="625.80" cy="497.00" r="1.45" fill="#000"/>
<circle cx="625.80" cy="508.80" r="1.45" fill="#000"/>
<circle cx="625.80" cy="509.50" r="1.45" fill="#000"/>
<line x1="654.70" y1="464.20" x2="654.70" y2="488.60" stroke="#555" stroke-width="1.0"/>
<line x1="654.70" y1="539.30" x2="654.70" y2="565.60" stroke="#555" stroke-width="1.0"/>
<rect x="643.80" y="488.60" width="21.80" height="50.70" fill="#abdda4" stroke="#444" stroke-width="0.9"/>
<line x1="643.80" y1="511.70" x2="665.60" y2="511.70" stroke="#2a2a2a" stroke-width="1.5"/>
<circle cx="654.70" cy="464.20" r="1.45" fill="#000"/>
<circle cx="654.70" cy="510.50" r="1.45" fill="#000"/>
<circle cx="654.70" cy="511.70" r="1.45" fill="#000"/>
<circle cx="654.70" cy="565.60" r="1.45" fill="#000"/>
<line x1="548.95" y1="510.90" x2="672.90" y2="510.90" stroke="#000" stroke-width="2.5" stroke-dasharray="2.5 7.45"/>
</svg></body></html>
